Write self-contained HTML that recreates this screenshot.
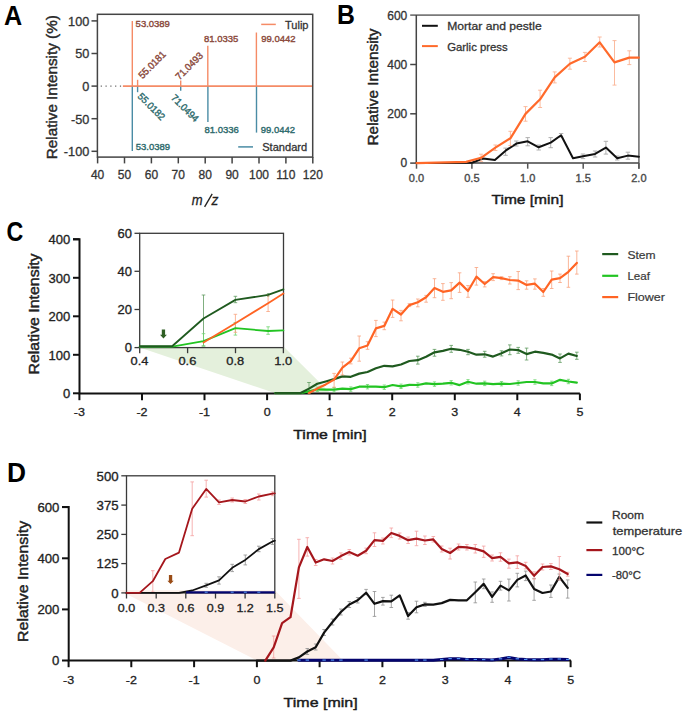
<!DOCTYPE html>
<html><head><meta charset="utf-8"><style>
html,body{margin:0;padding:0;background:#fff;}
svg{display:block;}
text{font-family:"Liberation Sans", sans-serif;}
</style></head><body>
<svg width="685" height="713" viewBox="0 0 685 713">
<rect width="685" height="713" fill="#fff"/>
<text transform="translate(3.9,24.6) scale(0.9,1)" font-size="28" fill="#000" text-anchor="start" font-weight="bold"  style="">A</text>
<rect x="97.4" y="14.3" width="215.3" height="142.8" fill="none" stroke="#444" stroke-width="1.5"/>
<line x1="91.5" y1="20.9" x2="97.4" y2="20.9" stroke="#444" stroke-width="1.5" />
<text transform="translate(89.3,25.7) scale(1.06,1)" font-size="12" fill="#333" text-anchor="end" font-weight="normal" stroke="#333" stroke-width="0.3"  style="">100</text>
<line x1="91.5" y1="53.5" x2="97.4" y2="53.5" stroke="#444" stroke-width="1.5" />
<text transform="translate(89.3,58.3) scale(1.06,1)" font-size="12" fill="#333" text-anchor="end" font-weight="normal" stroke="#333" stroke-width="0.3"  style="">50</text>
<line x1="91.5" y1="86.1" x2="97.4" y2="86.1" stroke="#444" stroke-width="1.5" />
<text transform="translate(89.3,90.9) scale(1.06,1)" font-size="12" fill="#333" text-anchor="end" font-weight="normal" stroke="#333" stroke-width="0.3"  style="">0</text>
<line x1="91.5" y1="118.7" x2="97.4" y2="118.7" stroke="#444" stroke-width="1.5" />
<text transform="translate(89.3,123.5) scale(1.06,1)" font-size="12" fill="#333" text-anchor="end" font-weight="normal" stroke="#333" stroke-width="0.3"  style="">-50</text>
<line x1="91.5" y1="151.3" x2="97.4" y2="151.3" stroke="#444" stroke-width="1.5" />
<text transform="translate(89.3,156.1) scale(1.06,1)" font-size="12" fill="#333" text-anchor="end" font-weight="normal" stroke="#333" stroke-width="0.3"  style="">-100</text>
<line x1="97.6" y1="157.1" x2="97.6" y2="163.4" stroke="#444" stroke-width="1.5" />
<text x="97.6" y="179.2" font-size="12" fill="#333" text-anchor="middle" font-weight="normal" stroke="#333" stroke-width="0.3"  style="">40</text>
<line x1="124.5" y1="157.1" x2="124.5" y2="163.4" stroke="#444" stroke-width="1.5" />
<text x="124.5" y="179.2" font-size="12" fill="#333" text-anchor="middle" font-weight="normal" stroke="#333" stroke-width="0.3"  style="">50</text>
<line x1="151.4" y1="157.1" x2="151.4" y2="163.4" stroke="#444" stroke-width="1.5" />
<text x="151.4" y="179.2" font-size="12" fill="#333" text-anchor="middle" font-weight="normal" stroke="#333" stroke-width="0.3"  style="">60</text>
<line x1="178.3" y1="157.1" x2="178.3" y2="163.4" stroke="#444" stroke-width="1.5" />
<text x="178.3" y="179.2" font-size="12" fill="#333" text-anchor="middle" font-weight="normal" stroke="#333" stroke-width="0.3"  style="">70</text>
<line x1="205.2" y1="157.1" x2="205.2" y2="163.4" stroke="#444" stroke-width="1.5" />
<text x="205.2" y="179.2" font-size="12" fill="#333" text-anchor="middle" font-weight="normal" stroke="#333" stroke-width="0.3"  style="">80</text>
<line x1="232.1" y1="157.1" x2="232.1" y2="163.4" stroke="#444" stroke-width="1.5" />
<text x="232.1" y="179.2" font-size="12" fill="#333" text-anchor="middle" font-weight="normal" stroke="#333" stroke-width="0.3"  style="">90</text>
<line x1="259.0" y1="157.1" x2="259.0" y2="163.4" stroke="#444" stroke-width="1.5" />
<text x="259.0" y="179.2" font-size="12" fill="#333" text-anchor="middle" font-weight="normal" stroke="#333" stroke-width="0.3"  style="">100</text>
<line x1="285.9" y1="157.1" x2="285.9" y2="163.4" stroke="#444" stroke-width="1.5" />
<text x="285.9" y="179.2" font-size="12" fill="#333" text-anchor="middle" font-weight="normal" stroke="#333" stroke-width="0.3"  style="">110</text>
<line x1="312.8" y1="157.1" x2="312.8" y2="163.4" stroke="#444" stroke-width="1.5" />
<text x="312.8" y="179.2" font-size="12" fill="#333" text-anchor="middle" font-weight="normal" stroke="#333" stroke-width="0.3"  style="">120</text>
<text transform="translate(56.8,87.2) rotate(-90)" font-size="14.0" fill="#2a2a2a" text-anchor="middle" font-weight="normal" textLength="144" lengthAdjust="spacingAndGlyphs" stroke="#2a2a2a" stroke-width="0.42">Relative Intensity (%)</text>
<text transform="translate(191.8,204.8) scale(0.9,1)" font-size="14.5" fill="#222" text-anchor="start" font-weight="normal" stroke="#222" stroke-width="0.3"  style="font-style:italic">m</text>
<text transform="translate(211.6,204.8) scale(0.95,1)" font-size="14.5" fill="#222" text-anchor="start" font-weight="normal" stroke="#222" stroke-width="0.3"  style="font-style:italic">z</text>
<line x1="204.6" y1="206.8" x2="212.2" y2="193.8" stroke="#222" stroke-width="1.35" />
<line x1="100.7" y1="86.1" x2="122.9" y2="86.1" stroke="#666" stroke-width="1.2" stroke-dasharray="1.2,3.6"/>
<line x1="122.9" y1="86.1" x2="312.0" y2="86.1" stroke="#f58b66" stroke-width="1.6" />
<line x1="132.3" y1="21.1" x2="132.3" y2="86.1" stroke="#f58b66" stroke-width="1.4" />
<line x1="137.6" y1="79.8" x2="137.6" y2="86.1" stroke="#f58b66" stroke-width="1.4" />
<line x1="180.7" y1="80.6" x2="180.7" y2="86.1" stroke="#f58b66" stroke-width="1.4" />
<line x1="207.8" y1="45.8" x2="207.8" y2="86.1" stroke="#f58b66" stroke-width="1.4" />
<line x1="256.4" y1="32.5" x2="256.4" y2="86.1" stroke="#f58b66" stroke-width="1.4" />
<line x1="132.3" y1="86.8" x2="132.3" y2="150.9" stroke="#4a8ca5" stroke-width="1.4" />
<line x1="137.6" y1="86.8" x2="137.6" y2="92.2" stroke="#4a8ca5" stroke-width="1.4" />
<line x1="180.7" y1="86.8" x2="180.7" y2="90.7" stroke="#4a8ca5" stroke-width="1.4" />
<line x1="207.9" y1="86.8" x2="207.9" y2="121.9" stroke="#4a8ca5" stroke-width="1.4" />
<line x1="256.5" y1="86.8" x2="256.5" y2="132.6" stroke="#4a8ca5" stroke-width="1.4" />
<text transform="translate(135.6,26.9) scale(0.96,1)" font-size="9.9" fill="#8b4a3c" text-anchor="start" font-weight="normal" stroke="#8b4a3c" stroke-width="0.4"  style="">53.0389</text>
<text transform="translate(204.0,41.9) scale(0.96,1)" font-size="9.9" fill="#8b4a3c" text-anchor="start" font-weight="normal" stroke="#8b4a3c" stroke-width="0.4"  style="">81.0335</text>
<text transform="translate(261.2,41.7) scale(0.96,1)" font-size="9.9" fill="#8b4a3c" text-anchor="start" font-weight="normal" stroke="#8b4a3c" stroke-width="0.4"  style="">99.0442</text>
<text transform="translate(142.4,79.2) rotate(-45)" font-size="9.9" fill="#8b4a3c" stroke="#8b4a3c" stroke-width="0.4" textLength="34" lengthAdjust="spacingAndGlyphs">55.0181</text>
<text transform="translate(179.6,80.4) rotate(-45)" font-size="9.9" fill="#8b4a3c" stroke="#8b4a3c" stroke-width="0.4" textLength="34" lengthAdjust="spacingAndGlyphs">71.0493</text>
<text transform="translate(135.8,150.0) scale(0.96,1)" font-size="9.9" fill="#2e6b6d" text-anchor="start" font-weight="normal" stroke="#2e6b6d" stroke-width="0.4"  style="">53.0389</text>
<text transform="translate(204.5,133.1) scale(0.96,1)" font-size="9.9" fill="#2e6b6d" text-anchor="start" font-weight="normal" stroke="#2e6b6d" stroke-width="0.4"  style="">81.0336</text>
<text transform="translate(260.7,132.7) scale(0.96,1)" font-size="9.9" fill="#2e6b6d" text-anchor="start" font-weight="normal" stroke="#2e6b6d" stroke-width="0.4"  style="">99.0442</text>
<text transform="translate(137.0,96.9) rotate(45)" font-size="9.9" fill="#2e6b6d" stroke="#2e6b6d" stroke-width="0.4" textLength="34" lengthAdjust="spacingAndGlyphs">55.0182</text>
<text transform="translate(170.6,98.5) rotate(45)" font-size="9.9" fill="#2e6b6d" stroke="#2e6b6d" stroke-width="0.4" textLength="34" lengthAdjust="spacingAndGlyphs">71.0494</text>
<line x1="261.2" y1="24.4" x2="275.8" y2="24.4" stroke="#f58b66" stroke-width="1.5" />
<text transform="translate(285.0,28.6) scale(0.96,1)" font-size="11.5" fill="#333" text-anchor="start" font-weight="normal" stroke="#333" stroke-width="0.3"  style="">Tulip</text>
<line x1="238.2" y1="146.9" x2="253.0" y2="146.9" stroke="#4a8ca5" stroke-width="1.5" />
<text x="262.2" y="151.1" font-size="11.5" fill="#333" text-anchor="start" font-weight="normal" textLength="45" lengthAdjust="spacingAndGlyphs" stroke="#333" stroke-width="0.3"  style="">Standard</text>
<text transform="translate(337.0,24.2) scale(0.9,1)" font-size="27.5" fill="#000" text-anchor="start" font-weight="bold"  style="">B</text>
<polyline points="410.2,15.1 638.9,15.1 638.9,168.7" fill="none" stroke="#7a7a7a" stroke-width="1.7"/>
<polyline points="416.3,15.1 416.3,163.1 638.9,163.1" fill="none" stroke="#444" stroke-width="1.5"/>
<line x1="410.2" y1="64.5" x2="416.5" y2="64.5" stroke="#444" stroke-width="1.5" />
<line x1="410.2" y1="113.8" x2="416.5" y2="113.8" stroke="#444" stroke-width="1.5" />
<line x1="410.2" y1="163.1" x2="416.5" y2="163.1" stroke="#444" stroke-width="1.5" />
<text x="407.3" y="19.5" font-size="12" fill="#333" text-anchor="end" font-weight="normal" stroke="#333" stroke-width="0.3"  style="">600</text>
<text x="407.3" y="68.8" font-size="12" fill="#333" text-anchor="end" font-weight="normal" stroke="#333" stroke-width="0.3"  style="">400</text>
<text x="407.3" y="118.1" font-size="12" fill="#333" text-anchor="end" font-weight="normal" stroke="#333" stroke-width="0.3"  style="">200</text>
<text x="407.3" y="167.4" font-size="12" fill="#333" text-anchor="end" font-weight="normal" stroke="#333" stroke-width="0.3"  style="">0</text>
<line x1="416.5" y1="163.1" x2="416.5" y2="168.7" stroke="#555" stroke-width="1.5" />
<text transform="translate(416.5,181.8) scale(1.06,1)" font-size="10.4" fill="#4a4a4a" text-anchor="middle" font-weight="normal" stroke="#4a4a4a" stroke-width="0.35"  style="">0.0</text>
<line x1="471.9" y1="163.1" x2="471.9" y2="168.7" stroke="#555" stroke-width="1.5" />
<text transform="translate(471.9,181.8) scale(1.06,1)" font-size="10.4" fill="#4a4a4a" text-anchor="middle" font-weight="normal" stroke="#4a4a4a" stroke-width="0.35"  style="">0.5</text>
<line x1="527.7" y1="163.1" x2="527.7" y2="168.7" stroke="#555" stroke-width="1.5" />
<text transform="translate(527.7,181.8) scale(1.06,1)" font-size="10.4" fill="#4a4a4a" text-anchor="middle" font-weight="normal" stroke="#4a4a4a" stroke-width="0.35"  style="">1.0</text>
<line x1="583.2" y1="163.1" x2="583.2" y2="168.7" stroke="#555" stroke-width="1.5" />
<text transform="translate(583.2,181.8) scale(1.06,1)" font-size="10.4" fill="#4a4a4a" text-anchor="middle" font-weight="normal" stroke="#4a4a4a" stroke-width="0.35"  style="">1.5</text>
<line x1="638.9" y1="163.1" x2="638.9" y2="168.7" stroke="#555" stroke-width="1.5" />
<text transform="translate(638.9,181.8) scale(1.06,1)" font-size="10.4" fill="#4a4a4a" text-anchor="middle" font-weight="normal" stroke="#4a4a4a" stroke-width="0.35"  style="">2.0</text>
<text transform="translate(377.5,87.0) rotate(-90)" font-size="13.8" fill="#222" text-anchor="middle" font-weight="normal" textLength="117" lengthAdjust="spacingAndGlyphs" stroke="#222" stroke-width="0.42">Relative Intensity</text>
<text x="527.5" y="204.0" font-size="13.6" fill="#1a1a1a" text-anchor="middle" font-weight="normal" textLength="72" lengthAdjust="spacingAndGlyphs" stroke="#1a1a1a" stroke-width="0.42"  style="">Time [min]</text>
<line x1="422.0" y1="25.8" x2="437.8" y2="25.8" stroke="#111" stroke-width="2" />
<text x="447.2" y="30.2" font-size="11.6" fill="#333" text-anchor="start" font-weight="normal" textLength="94.5" lengthAdjust="spacingAndGlyphs" stroke="#333" stroke-width="0.3"  style="">Mortar and pestle</text>
<line x1="422.0" y1="46.1" x2="437.8" y2="46.1" stroke="#ff6a2b" stroke-width="2" />
<text x="447.2" y="51.0" font-size="11.6" fill="#333" text-anchor="start" font-weight="normal" textLength="60.5" lengthAdjust="spacingAndGlyphs" stroke="#333" stroke-width="0.3"  style="">Garlic press</text>
<line x1="505.6" y1="148.1" x2="505.6" y2="155.3" stroke="#a8a8a8" stroke-width="0.9" />
<line x1="503.4" y1="148.1" x2="507.8" y2="148.1" stroke="#a8a8a8" stroke-width="0.9" />
<line x1="503.4" y1="155.3" x2="507.8" y2="155.3" stroke="#a8a8a8" stroke-width="0.9" />
<line x1="516.3" y1="141.0" x2="516.3" y2="146.0" stroke="#a8a8a8" stroke-width="0.9" />
<line x1="514.1" y1="141.0" x2="518.5" y2="141.0" stroke="#a8a8a8" stroke-width="0.9" />
<line x1="514.1" y1="146.0" x2="518.5" y2="146.0" stroke="#a8a8a8" stroke-width="0.9" />
<line x1="527.7" y1="137.6" x2="527.7" y2="145.8" stroke="#a8a8a8" stroke-width="0.9" />
<line x1="525.5" y1="137.6" x2="529.9" y2="137.6" stroke="#a8a8a8" stroke-width="0.9" />
<line x1="525.5" y1="145.8" x2="529.9" y2="145.8" stroke="#a8a8a8" stroke-width="0.9" />
<line x1="538.7" y1="145.0" x2="538.7" y2="150.0" stroke="#a8a8a8" stroke-width="0.9" />
<line x1="536.5" y1="145.0" x2="540.9" y2="145.0" stroke="#a8a8a8" stroke-width="0.9" />
<line x1="536.5" y1="150.0" x2="540.9" y2="150.0" stroke="#a8a8a8" stroke-width="0.9" />
<line x1="550.7" y1="137.6" x2="550.7" y2="147.7" stroke="#a8a8a8" stroke-width="0.9" />
<line x1="548.5" y1="137.6" x2="552.9" y2="137.6" stroke="#a8a8a8" stroke-width="0.9" />
<line x1="548.5" y1="147.7" x2="552.9" y2="147.7" stroke="#a8a8a8" stroke-width="0.9" />
<line x1="561.1" y1="133.5" x2="561.1" y2="137.0" stroke="#a8a8a8" stroke-width="0.9" />
<line x1="558.9" y1="133.5" x2="563.3" y2="133.5" stroke="#a8a8a8" stroke-width="0.9" />
<line x1="558.9" y1="137.0" x2="563.3" y2="137.0" stroke="#a8a8a8" stroke-width="0.9" />
<line x1="583.0" y1="154.0" x2="583.0" y2="158.6" stroke="#a8a8a8" stroke-width="0.9" />
<line x1="580.8" y1="154.0" x2="585.2" y2="154.0" stroke="#a8a8a8" stroke-width="0.9" />
<line x1="580.8" y1="158.6" x2="585.2" y2="158.6" stroke="#a8a8a8" stroke-width="0.9" />
<line x1="595.1" y1="151.0" x2="595.1" y2="157.0" stroke="#a8a8a8" stroke-width="0.9" />
<line x1="592.9" y1="151.0" x2="597.3" y2="151.0" stroke="#a8a8a8" stroke-width="0.9" />
<line x1="592.9" y1="157.0" x2="597.3" y2="157.0" stroke="#a8a8a8" stroke-width="0.9" />
<line x1="605.9" y1="141.3" x2="605.9" y2="154.1" stroke="#a8a8a8" stroke-width="0.9" />
<line x1="603.7" y1="141.3" x2="608.1" y2="141.3" stroke="#a8a8a8" stroke-width="0.9" />
<line x1="603.7" y1="154.1" x2="608.1" y2="154.1" stroke="#a8a8a8" stroke-width="0.9" />
<line x1="617.2" y1="156.0" x2="617.2" y2="160.0" stroke="#a8a8a8" stroke-width="0.9" />
<line x1="615.0" y1="156.0" x2="619.4" y2="156.0" stroke="#a8a8a8" stroke-width="0.9" />
<line x1="615.0" y1="160.0" x2="619.4" y2="160.0" stroke="#a8a8a8" stroke-width="0.9" />
<line x1="627.9" y1="152.2" x2="627.9" y2="159.2" stroke="#a8a8a8" stroke-width="0.9" />
<line x1="625.7" y1="152.2" x2="630.1" y2="152.2" stroke="#a8a8a8" stroke-width="0.9" />
<line x1="625.7" y1="159.2" x2="630.1" y2="159.2" stroke="#a8a8a8" stroke-width="0.9" />
<polyline points="416.5,163.1 471.9,162.7 483.1,158.6 494.9,160.1 505.6,150.7 516.4,143.6 527.7,141.3 538.7,147.3 550.7,142.6 561.1,135.3 573.0,158.2 583.0,156.2 595.1,153.9 605.9,147.6 617.2,158.2 627.9,155.6 638.9,156.7" fill="none" stroke="#111" stroke-width="2.0" stroke-linejoin="round" stroke-linecap="round" />
<line x1="481.1" y1="154.2" x2="481.1" y2="161.4" stroke="#fab394" stroke-width="0.9" />
<line x1="479.1" y1="154.2" x2="483.1" y2="154.2" stroke="#fab394" stroke-width="0.9" />
<line x1="479.1" y1="161.4" x2="483.1" y2="161.4" stroke="#fab394" stroke-width="0.9" />
<line x1="495.4" y1="145.0" x2="495.4" y2="150.5" stroke="#fab394" stroke-width="0.9" />
<line x1="493.4" y1="145.0" x2="497.4" y2="145.0" stroke="#fab394" stroke-width="0.9" />
<line x1="493.4" y1="150.5" x2="497.4" y2="150.5" stroke="#fab394" stroke-width="0.9" />
<line x1="510.4" y1="131.3" x2="510.4" y2="145.5" stroke="#fab394" stroke-width="0.9" />
<line x1="508.4" y1="131.3" x2="512.4" y2="131.3" stroke="#fab394" stroke-width="0.9" />
<line x1="508.4" y1="145.5" x2="512.4" y2="145.5" stroke="#fab394" stroke-width="0.9" />
<line x1="525.5" y1="106.6" x2="525.5" y2="121.2" stroke="#fab394" stroke-width="0.9" />
<line x1="523.5" y1="106.6" x2="527.5" y2="106.6" stroke="#fab394" stroke-width="0.9" />
<line x1="523.5" y1="121.2" x2="527.5" y2="121.2" stroke="#fab394" stroke-width="0.9" />
<line x1="540.1" y1="90.2" x2="540.1" y2="107.5" stroke="#fab394" stroke-width="0.9" />
<line x1="538.1" y1="90.2" x2="542.1" y2="90.2" stroke="#fab394" stroke-width="0.9" />
<line x1="538.1" y1="107.5" x2="542.1" y2="107.5" stroke="#fab394" stroke-width="0.9" />
<line x1="554.7" y1="71.9" x2="554.7" y2="82.9" stroke="#fab394" stroke-width="0.9" />
<line x1="552.7" y1="71.9" x2="556.7" y2="71.9" stroke="#fab394" stroke-width="0.9" />
<line x1="552.7" y1="82.9" x2="556.7" y2="82.9" stroke="#fab394" stroke-width="0.9" />
<line x1="569.9" y1="58.2" x2="569.9" y2="69.2" stroke="#fab394" stroke-width="0.9" />
<line x1="567.9" y1="58.2" x2="571.9" y2="58.2" stroke="#fab394" stroke-width="0.9" />
<line x1="567.9" y1="69.2" x2="571.9" y2="69.2" stroke="#fab394" stroke-width="0.9" />
<line x1="584.9" y1="52.4" x2="584.9" y2="61.5" stroke="#fab394" stroke-width="0.9" />
<line x1="582.9" y1="52.4" x2="586.9" y2="52.4" stroke="#fab394" stroke-width="0.9" />
<line x1="582.9" y1="61.5" x2="586.9" y2="61.5" stroke="#fab394" stroke-width="0.9" />
<line x1="599.7" y1="37.0" x2="599.7" y2="47.0" stroke="#fab394" stroke-width="0.9" />
<line x1="597.7" y1="37.0" x2="601.7" y2="37.0" stroke="#fab394" stroke-width="0.9" />
<line x1="597.7" y1="47.0" x2="601.7" y2="47.0" stroke="#fab394" stroke-width="0.9" />
<line x1="614.5" y1="40.6" x2="614.5" y2="85.1" stroke="#fab394" stroke-width="0.9" />
<line x1="612.5" y1="40.6" x2="616.5" y2="40.6" stroke="#fab394" stroke-width="0.9" />
<line x1="612.5" y1="85.1" x2="616.5" y2="85.1" stroke="#fab394" stroke-width="0.9" />
<line x1="629.3" y1="50.8" x2="629.3" y2="64.6" stroke="#fab394" stroke-width="0.9" />
<line x1="627.3" y1="50.8" x2="631.3" y2="50.8" stroke="#fab394" stroke-width="0.9" />
<line x1="627.3" y1="64.6" x2="631.3" y2="64.6" stroke="#fab394" stroke-width="0.9" />
<polyline points="416.5,163.1 466.2,161.9 481.1,157.8 495.4,147.6 510.4,138.3 525.5,113.9 540.1,99.3 554.7,77.4 569.9,63.7 584.9,56.8 599.7,42.3 614.5,62.4 629.3,57.6 638.9,57.6" fill="none" stroke="#ff6a2b" stroke-width="2.2" stroke-linejoin="round" stroke-linecap="round" />
<text transform="translate(6.4,241.4) scale(0.83,1)" font-size="28" fill="#000" text-anchor="start" font-weight="bold"  style="">C</text>
<polygon points="139.7,347.6 284.5,347.6 330.5,393.3 275.5,393.3" fill="#e4f0dc"/>
<polyline points="73,239.3 79.5,239.3 79.5,393.5 579.9,393.5" fill="none" stroke="#111" stroke-width="2"/>
<line x1="73.0" y1="239.3" x2="79.5" y2="239.3" stroke="#111" stroke-width="2" />
<text transform="translate(70.2,244.1) scale(1.07,1)" font-size="12.2" fill="#222" text-anchor="end" font-weight="normal" stroke="#222" stroke-width="0.3"  style="">400</text>
<line x1="73.0" y1="277.8" x2="79.5" y2="277.8" stroke="#111" stroke-width="2" />
<text transform="translate(70.2,282.6) scale(1.07,1)" font-size="12.2" fill="#222" text-anchor="end" font-weight="normal" stroke="#222" stroke-width="0.3"  style="">300</text>
<line x1="73.0" y1="316.3" x2="79.5" y2="316.3" stroke="#111" stroke-width="2" />
<text transform="translate(70.2,321.1) scale(1.07,1)" font-size="12.2" fill="#222" text-anchor="end" font-weight="normal" stroke="#222" stroke-width="0.3"  style="">200</text>
<line x1="73.0" y1="354.8" x2="79.5" y2="354.8" stroke="#111" stroke-width="2" />
<text transform="translate(70.2,359.6) scale(1.07,1)" font-size="12.2" fill="#222" text-anchor="end" font-weight="normal" stroke="#222" stroke-width="0.3"  style="">100</text>
<line x1="73.0" y1="393.3" x2="79.5" y2="393.3" stroke="#111" stroke-width="2" />
<text transform="translate(70.2,398.1) scale(1.07,1)" font-size="12.2" fill="#222" text-anchor="end" font-weight="normal" stroke="#222" stroke-width="0.3"  style="">0</text>
<line x1="79.4" y1="393.5" x2="79.4" y2="400.2" stroke="#111" stroke-width="2" />
<text transform="translate(79.4,415.9) scale(1.06,1)" font-size="11.8" fill="#222" text-anchor="middle" font-weight="normal" stroke="#222" stroke-width="0.3"  style="">-3</text>
<line x1="142.0" y1="393.5" x2="142.0" y2="400.2" stroke="#111" stroke-width="2" />
<text transform="translate(142.0,415.9) scale(1.06,1)" font-size="11.8" fill="#222" text-anchor="middle" font-weight="normal" stroke="#222" stroke-width="0.3"  style="">-2</text>
<line x1="204.5" y1="393.5" x2="204.5" y2="400.2" stroke="#111" stroke-width="2" />
<text transform="translate(204.5,415.9) scale(1.06,1)" font-size="11.8" fill="#222" text-anchor="middle" font-weight="normal" stroke="#222" stroke-width="0.3"  style="">-1</text>
<line x1="267.1" y1="393.5" x2="267.1" y2="400.2" stroke="#111" stroke-width="2" />
<text transform="translate(267.1,415.9) scale(1.06,1)" font-size="11.8" fill="#222" text-anchor="middle" font-weight="normal" stroke="#222" stroke-width="0.3"  style="">0</text>
<line x1="329.6" y1="393.5" x2="329.6" y2="400.2" stroke="#111" stroke-width="2" />
<text transform="translate(329.6,415.9) scale(1.06,1)" font-size="11.8" fill="#222" text-anchor="middle" font-weight="normal" stroke="#222" stroke-width="0.3"  style="">1</text>
<line x1="392.2" y1="393.5" x2="392.2" y2="400.2" stroke="#111" stroke-width="2" />
<text transform="translate(392.2,415.9) scale(1.06,1)" font-size="11.8" fill="#222" text-anchor="middle" font-weight="normal" stroke="#222" stroke-width="0.3"  style="">2</text>
<line x1="454.8" y1="393.5" x2="454.8" y2="400.2" stroke="#111" stroke-width="2" />
<text transform="translate(454.8,415.9) scale(1.06,1)" font-size="11.8" fill="#222" text-anchor="middle" font-weight="normal" stroke="#222" stroke-width="0.3"  style="">3</text>
<line x1="517.3" y1="393.5" x2="517.3" y2="400.2" stroke="#111" stroke-width="2" />
<text transform="translate(517.3,415.9) scale(1.06,1)" font-size="11.8" fill="#222" text-anchor="middle" font-weight="normal" stroke="#222" stroke-width="0.3"  style="">4</text>
<line x1="579.9" y1="393.5" x2="579.9" y2="400.2" stroke="#111" stroke-width="2" />
<text transform="translate(579.9,415.9) scale(1.06,1)" font-size="11.8" fill="#222" text-anchor="middle" font-weight="normal" stroke="#222" stroke-width="0.3"  style="">5</text>
<text transform="translate(39.0,314.0) rotate(-90)" font-size="13.8" fill="#222" text-anchor="middle" font-weight="normal" textLength="121" lengthAdjust="spacingAndGlyphs" stroke="#222" stroke-width="0.42">Relative Intensity</text>
<text x="330.0" y="439.4" font-size="13.6" fill="#1a1a1a" text-anchor="middle" font-weight="normal" textLength="73.5" lengthAdjust="spacingAndGlyphs" stroke="#1a1a1a" stroke-width="0.42"  style="">Time [min]</text>
<line x1="602.2" y1="254.1" x2="618.2" y2="254.1" stroke="#1f5a1f" stroke-width="2.2" />
<text transform="translate(627.4,258.7) scale(1.07,1)" font-size="11.3" fill="#3a3a3a" text-anchor="start" font-weight="normal" stroke="#3a3a3a" stroke-width="0.2"  style="">Stem</text>
<line x1="602.2" y1="275.8" x2="618.2" y2="275.8" stroke="#22c422" stroke-width="2.2" />
<text transform="translate(627.4,280.2) scale(1.03,1)" font-size="11.3" fill="#3a3a3a" text-anchor="start" font-weight="normal" stroke="#3a3a3a" stroke-width="0.2"  style="">Leaf</text>
<line x1="602.2" y1="297.1" x2="618.2" y2="297.1" stroke="#ff6424" stroke-width="2.2" />
<text transform="translate(627.4,301.3) scale(1.11,1)" font-size="11.3" fill="#3a3a3a" text-anchor="start" font-weight="normal" stroke="#3a3a3a" stroke-width="0.2"  style="">Flower</text>
<rect x="139.7" y="233.3" width="143.8" height="114.3" fill="none" stroke="#3a3a3a" stroke-width="1.3"/>
<line x1="134.5" y1="233.3" x2="139.7" y2="233.3" stroke="#3a3a3a" stroke-width="1.3" />
<text transform="translate(132.0,237.9) scale(1.08,1)" font-size="12" fill="#222" text-anchor="end" font-weight="normal" stroke="#222" stroke-width="0.3"  style="">60</text>
<line x1="134.5" y1="271.3" x2="139.7" y2="271.3" stroke="#3a3a3a" stroke-width="1.3" />
<text transform="translate(132.0,275.9) scale(1.08,1)" font-size="12" fill="#222" text-anchor="end" font-weight="normal" stroke="#222" stroke-width="0.3"  style="">40</text>
<line x1="134.5" y1="309.5" x2="139.7" y2="309.5" stroke="#3a3a3a" stroke-width="1.3" />
<text transform="translate(132.0,314.1) scale(1.08,1)" font-size="12" fill="#222" text-anchor="end" font-weight="normal" stroke="#222" stroke-width="0.3"  style="">20</text>
<line x1="134.5" y1="347.6" x2="139.7" y2="347.6" stroke="#3a3a3a" stroke-width="1.3" />
<text transform="translate(132.0,352.2) scale(1.08,1)" font-size="12" fill="#222" text-anchor="end" font-weight="normal" stroke="#222" stroke-width="0.3"  style="">0</text>
<line x1="139.7" y1="347.6" x2="139.7" y2="353.2" stroke="#3a3a3a" stroke-width="1.3" />
<text transform="translate(139.5,364.9) scale(1.15,1)" font-size="11.2" fill="#222" text-anchor="middle" font-weight="normal" stroke="#222" stroke-width="0.3"  style="">0.4</text>
<line x1="187.6" y1="347.6" x2="187.6" y2="353.2" stroke="#3a3a3a" stroke-width="1.3" />
<text transform="translate(187.4,364.9) scale(1.15,1)" font-size="11.2" fill="#222" text-anchor="middle" font-weight="normal" stroke="#222" stroke-width="0.3"  style="">0.6</text>
<line x1="235.5" y1="347.6" x2="235.5" y2="353.2" stroke="#3a3a3a" stroke-width="1.3" />
<text transform="translate(235.3,364.9) scale(1.15,1)" font-size="11.2" fill="#222" text-anchor="middle" font-weight="normal" stroke="#222" stroke-width="0.3"  style="">0.8</text>
<line x1="283.4" y1="347.6" x2="283.4" y2="353.2" stroke="#3a3a3a" stroke-width="1.3" />
<text transform="translate(283.2,364.9) scale(1.15,1)" font-size="11.2" fill="#222" text-anchor="middle" font-weight="normal" stroke="#222" stroke-width="0.3"  style="">1.0</text>
<line x1="203.5" y1="295.0" x2="203.5" y2="346.0" stroke="#5f9a5f" stroke-width="0.8" />
<line x1="201.7" y1="295.0" x2="205.3" y2="295.0" stroke="#5f9a5f" stroke-width="0.8" />
<line x1="201.7" y1="346.0" x2="205.3" y2="346.0" stroke="#5f9a5f" stroke-width="0.8" />
<line x1="235.4" y1="296.3" x2="235.4" y2="302.7" stroke="#5f9a5f" stroke-width="0.8" />
<line x1="233.6" y1="296.3" x2="237.2" y2="296.3" stroke="#5f9a5f" stroke-width="0.8" />
<line x1="233.6" y1="302.7" x2="237.2" y2="302.7" stroke="#5f9a5f" stroke-width="0.8" />
<line x1="268.1" y1="293.5" x2="268.1" y2="296.5" stroke="#5f9a5f" stroke-width="0.6" />
<line x1="266.9" y1="293.5" x2="269.3" y2="293.5" stroke="#5f9a5f" stroke-width="0.6" />
<line x1="266.9" y1="296.5" x2="269.3" y2="296.5" stroke="#5f9a5f" stroke-width="0.6" />
<line x1="203.5" y1="333.7" x2="203.5" y2="346.0" stroke="#6fd66f" stroke-width="0.8" />
<line x1="201.7" y1="333.7" x2="205.3" y2="333.7" stroke="#6fd66f" stroke-width="0.8" />
<line x1="201.7" y1="346.0" x2="205.3" y2="346.0" stroke="#6fd66f" stroke-width="0.8" />
<line x1="235.4" y1="322.6" x2="235.4" y2="335.1" stroke="#6fd66f" stroke-width="0.8" />
<line x1="233.6" y1="322.6" x2="237.2" y2="322.6" stroke="#6fd66f" stroke-width="0.8" />
<line x1="233.6" y1="335.1" x2="237.2" y2="335.1" stroke="#6fd66f" stroke-width="0.8" />
<line x1="268.1" y1="326.8" x2="268.1" y2="334.3" stroke="#6fd66f" stroke-width="0.8" />
<line x1="266.3" y1="326.8" x2="269.9" y2="326.8" stroke="#6fd66f" stroke-width="0.8" />
<line x1="266.3" y1="334.3" x2="269.9" y2="334.3" stroke="#6fd66f" stroke-width="0.8" />
<line x1="235.4" y1="314.3" x2="235.4" y2="332.3" stroke="#f9a37f" stroke-width="0.8" />
<line x1="233.6" y1="314.3" x2="237.2" y2="314.3" stroke="#f9a37f" stroke-width="0.8" />
<line x1="233.6" y1="332.3" x2="237.2" y2="332.3" stroke="#f9a37f" stroke-width="0.8" />
<line x1="268.1" y1="294.9" x2="268.1" y2="311.5" stroke="#f9a37f" stroke-width="0.8" />
<line x1="266.3" y1="294.9" x2="269.9" y2="294.9" stroke="#f9a37f" stroke-width="0.8" />
<line x1="266.3" y1="311.5" x2="269.9" y2="311.5" stroke="#f9a37f" stroke-width="0.8" />
<polyline points="139.7,346.6 172.4,346.6 203.5,341.2 235.4,328.2 268.1,331.0 283.4,330.4" fill="none" stroke="#22c422" stroke-width="1.8" stroke-linejoin="round" stroke-linecap="round" />
<polyline points="203.5,342.5 235.4,323.2 268.1,303.2 283.4,293.5" fill="none" stroke="#ff6424" stroke-width="1.8" stroke-linejoin="round" stroke-linecap="round" />
<polyline points="139.7,346.2 172.4,346.0 203.5,318.5 235.4,299.9 268.1,294.9 283.4,289.3" fill="none" stroke="#1f5a1f" stroke-width="1.8" stroke-linejoin="round" stroke-linecap="round" />
<path d="M161.8,329.4 h3.3 v5.4 h1.8 l-3.45,3.8 l-3.45,-3.8 h1.8 z" fill="#2f5f24"/>
<line x1="309.0" y1="382.5" x2="309.0" y2="393.0" stroke="#5f9a5f" stroke-width="0.8" />
<line x1="307.2" y1="382.5" x2="310.8" y2="382.5" stroke="#5f9a5f" stroke-width="0.8" />
<line x1="307.2" y1="393.0" x2="310.8" y2="393.0" stroke="#5f9a5f" stroke-width="0.8" />
<line x1="417.8" y1="356.2" x2="417.8" y2="364.1" stroke="#5f9a5f" stroke-width="0.8" />
<line x1="416.0" y1="356.2" x2="419.6" y2="356.2" stroke="#5f9a5f" stroke-width="0.8" />
<line x1="416.0" y1="364.1" x2="419.6" y2="364.1" stroke="#5f9a5f" stroke-width="0.8" />
<line x1="434.5" y1="349.4" x2="434.5" y2="356.2" stroke="#5f9a5f" stroke-width="0.8" />
<line x1="432.7" y1="349.4" x2="436.3" y2="349.4" stroke="#5f9a5f" stroke-width="0.8" />
<line x1="432.7" y1="356.2" x2="436.3" y2="356.2" stroke="#5f9a5f" stroke-width="0.8" />
<line x1="451.2" y1="345.4" x2="451.2" y2="352.3" stroke="#5f9a5f" stroke-width="0.8" />
<line x1="449.4" y1="345.4" x2="453.0" y2="345.4" stroke="#5f9a5f" stroke-width="0.8" />
<line x1="449.4" y1="352.3" x2="453.0" y2="352.3" stroke="#5f9a5f" stroke-width="0.8" />
<line x1="468.0" y1="349.4" x2="468.0" y2="354.7" stroke="#5f9a5f" stroke-width="0.8" />
<line x1="466.2" y1="349.4" x2="469.8" y2="349.4" stroke="#5f9a5f" stroke-width="0.8" />
<line x1="466.2" y1="354.7" x2="469.8" y2="354.7" stroke="#5f9a5f" stroke-width="0.8" />
<line x1="484.7" y1="351.3" x2="484.7" y2="357.2" stroke="#5f9a5f" stroke-width="0.8" />
<line x1="482.9" y1="351.3" x2="486.5" y2="351.3" stroke="#5f9a5f" stroke-width="0.8" />
<line x1="482.9" y1="357.2" x2="486.5" y2="357.2" stroke="#5f9a5f" stroke-width="0.8" />
<line x1="501.5" y1="350.8" x2="501.5" y2="355.9" stroke="#5f9a5f" stroke-width="0.8" />
<line x1="499.7" y1="350.8" x2="503.3" y2="350.8" stroke="#5f9a5f" stroke-width="0.8" />
<line x1="499.7" y1="355.9" x2="503.3" y2="355.9" stroke="#5f9a5f" stroke-width="0.8" />
<line x1="509.8" y1="344.9" x2="509.8" y2="354.7" stroke="#5f9a5f" stroke-width="0.8" />
<line x1="508.0" y1="344.9" x2="511.6" y2="344.9" stroke="#5f9a5f" stroke-width="0.8" />
<line x1="508.0" y1="354.7" x2="511.6" y2="354.7" stroke="#5f9a5f" stroke-width="0.8" />
<line x1="518.2" y1="347.4" x2="518.2" y2="353.3" stroke="#5f9a5f" stroke-width="0.8" />
<line x1="516.4" y1="347.4" x2="520.0" y2="347.4" stroke="#5f9a5f" stroke-width="0.8" />
<line x1="516.4" y1="353.3" x2="520.0" y2="353.3" stroke="#5f9a5f" stroke-width="0.8" />
<line x1="526.6" y1="348.1" x2="526.6" y2="360.0" stroke="#5f9a5f" stroke-width="0.8" />
<line x1="524.8" y1="348.1" x2="528.4" y2="348.1" stroke="#5f9a5f" stroke-width="0.8" />
<line x1="524.8" y1="360.0" x2="528.4" y2="360.0" stroke="#5f9a5f" stroke-width="0.8" />
<line x1="560.0" y1="354.0" x2="560.0" y2="362.4" stroke="#5f9a5f" stroke-width="0.8" />
<line x1="558.2" y1="354.0" x2="561.8" y2="354.0" stroke="#5f9a5f" stroke-width="0.8" />
<line x1="558.2" y1="362.4" x2="561.8" y2="362.4" stroke="#5f9a5f" stroke-width="0.8" />
<line x1="576.8" y1="352.2" x2="576.8" y2="359.3" stroke="#5f9a5f" stroke-width="0.8" />
<line x1="575.0" y1="352.2" x2="578.6" y2="352.2" stroke="#5f9a5f" stroke-width="0.8" />
<line x1="575.0" y1="359.3" x2="578.6" y2="359.3" stroke="#5f9a5f" stroke-width="0.8" />
<line x1="317.3" y1="387.1" x2="317.3" y2="391.5" stroke="#6fd66f" stroke-width="0.8" />
<line x1="315.7" y1="387.1" x2="318.9" y2="387.1" stroke="#6fd66f" stroke-width="0.8" />
<line x1="315.7" y1="391.5" x2="318.9" y2="391.5" stroke="#6fd66f" stroke-width="0.8" />
<line x1="334.1" y1="387.5" x2="334.1" y2="391.9" stroke="#6fd66f" stroke-width="0.8" />
<line x1="332.5" y1="387.5" x2="335.7" y2="387.5" stroke="#6fd66f" stroke-width="0.8" />
<line x1="332.5" y1="391.9" x2="335.7" y2="391.9" stroke="#6fd66f" stroke-width="0.8" />
<line x1="350.8" y1="386.9" x2="350.8" y2="391.3" stroke="#6fd66f" stroke-width="0.8" />
<line x1="349.2" y1="386.9" x2="352.4" y2="386.9" stroke="#6fd66f" stroke-width="0.8" />
<line x1="349.2" y1="391.3" x2="352.4" y2="391.3" stroke="#6fd66f" stroke-width="0.8" />
<line x1="367.5" y1="384.5" x2="367.5" y2="388.9" stroke="#6fd66f" stroke-width="0.8" />
<line x1="365.9" y1="384.5" x2="369.1" y2="384.5" stroke="#6fd66f" stroke-width="0.8" />
<line x1="365.9" y1="388.9" x2="369.1" y2="388.9" stroke="#6fd66f" stroke-width="0.8" />
<line x1="384.3" y1="385.0" x2="384.3" y2="389.4" stroke="#6fd66f" stroke-width="0.8" />
<line x1="382.7" y1="385.0" x2="385.9" y2="385.0" stroke="#6fd66f" stroke-width="0.8" />
<line x1="382.7" y1="389.4" x2="385.9" y2="389.4" stroke="#6fd66f" stroke-width="0.8" />
<line x1="401.0" y1="384.1" x2="401.0" y2="388.5" stroke="#6fd66f" stroke-width="0.8" />
<line x1="399.4" y1="384.1" x2="402.6" y2="384.1" stroke="#6fd66f" stroke-width="0.8" />
<line x1="399.4" y1="388.5" x2="402.6" y2="388.5" stroke="#6fd66f" stroke-width="0.8" />
<line x1="417.8" y1="382.8" x2="417.8" y2="387.2" stroke="#6fd66f" stroke-width="0.8" />
<line x1="416.2" y1="382.8" x2="419.4" y2="382.8" stroke="#6fd66f" stroke-width="0.8" />
<line x1="416.2" y1="387.2" x2="419.4" y2="387.2" stroke="#6fd66f" stroke-width="0.8" />
<line x1="434.5" y1="381.9" x2="434.5" y2="386.3" stroke="#6fd66f" stroke-width="0.8" />
<line x1="432.9" y1="381.9" x2="436.1" y2="381.9" stroke="#6fd66f" stroke-width="0.8" />
<line x1="432.9" y1="386.3" x2="436.1" y2="386.3" stroke="#6fd66f" stroke-width="0.8" />
<line x1="451.2" y1="380.6" x2="451.2" y2="385.0" stroke="#6fd66f" stroke-width="0.8" />
<line x1="449.6" y1="380.6" x2="452.8" y2="380.6" stroke="#6fd66f" stroke-width="0.8" />
<line x1="449.6" y1="385.0" x2="452.8" y2="385.0" stroke="#6fd66f" stroke-width="0.8" />
<line x1="468.0" y1="379.6" x2="468.0" y2="384.0" stroke="#6fd66f" stroke-width="0.8" />
<line x1="466.4" y1="379.6" x2="469.6" y2="379.6" stroke="#6fd66f" stroke-width="0.8" />
<line x1="466.4" y1="384.0" x2="469.6" y2="384.0" stroke="#6fd66f" stroke-width="0.8" />
<line x1="484.7" y1="381.2" x2="484.7" y2="385.6" stroke="#6fd66f" stroke-width="0.8" />
<line x1="483.1" y1="381.2" x2="486.3" y2="381.2" stroke="#6fd66f" stroke-width="0.8" />
<line x1="483.1" y1="385.6" x2="486.3" y2="385.6" stroke="#6fd66f" stroke-width="0.8" />
<line x1="501.5" y1="381.5" x2="501.5" y2="385.9" stroke="#6fd66f" stroke-width="0.8" />
<line x1="499.9" y1="381.5" x2="503.1" y2="381.5" stroke="#6fd66f" stroke-width="0.8" />
<line x1="499.9" y1="385.9" x2="503.1" y2="385.9" stroke="#6fd66f" stroke-width="0.8" />
<line x1="518.2" y1="380.8" x2="518.2" y2="385.2" stroke="#6fd66f" stroke-width="0.8" />
<line x1="516.6" y1="380.8" x2="519.8" y2="380.8" stroke="#6fd66f" stroke-width="0.8" />
<line x1="516.6" y1="385.2" x2="519.8" y2="385.2" stroke="#6fd66f" stroke-width="0.8" />
<line x1="534.9" y1="379.8" x2="534.9" y2="384.2" stroke="#6fd66f" stroke-width="0.8" />
<line x1="533.3" y1="379.8" x2="536.5" y2="379.8" stroke="#6fd66f" stroke-width="0.8" />
<line x1="533.3" y1="384.2" x2="536.5" y2="384.2" stroke="#6fd66f" stroke-width="0.8" />
<line x1="551.7" y1="381.2" x2="551.7" y2="385.6" stroke="#6fd66f" stroke-width="0.8" />
<line x1="550.1" y1="381.2" x2="553.3" y2="381.2" stroke="#6fd66f" stroke-width="0.8" />
<line x1="550.1" y1="385.6" x2="553.3" y2="385.6" stroke="#6fd66f" stroke-width="0.8" />
<line x1="568.4" y1="379.3" x2="568.4" y2="383.7" stroke="#6fd66f" stroke-width="0.8" />
<line x1="566.8" y1="379.3" x2="570.0" y2="379.3" stroke="#6fd66f" stroke-width="0.8" />
<line x1="566.8" y1="383.7" x2="570.0" y2="383.7" stroke="#6fd66f" stroke-width="0.8" />
<polyline points="275.5,393.2 300.6,393.2 309.0,391.2 317.3,389.3 325.7,389.7 334.1,389.7 342.4,388.7 350.8,389.1 359.2,386.7 367.5,386.7 375.9,386.7 384.3,387.2 392.6,385.0 401.0,386.3 409.4,384.8 417.8,385.0 426.1,383.4 434.5,384.1 442.9,383.7 451.2,382.8 459.6,385.1 468.0,381.8 476.4,383.7 484.7,383.4 493.1,384.1 501.5,383.7 509.8,384.0 518.2,383.0 526.6,382.0 534.9,382.0 543.3,383.4 551.7,383.4 560.0,379.8 568.4,381.5 576.8,382.7" fill="none" stroke="#22c422" stroke-width="2.2" stroke-linejoin="round" stroke-linecap="round" />
<polyline points="275.5,393.0 300.6,393.0 309.0,388.6 317.3,383.8 325.7,381.5 334.1,379.1 342.4,376.4 350.8,376.8 359.2,373.6 367.5,372.0 375.9,368.3 384.3,365.8 392.6,366.4 401.0,364.5 409.4,361.0 417.8,360.2 426.1,356.8 434.5,352.3 442.9,350.9 451.2,348.8 459.6,349.8 468.0,351.7 476.4,354.7 484.7,354.3 493.1,356.6 501.5,353.3 509.8,349.5 518.2,350.1 526.6,354.1 534.9,351.7 543.3,352.9 551.7,354.6 560.0,358.4 568.4,353.6 576.8,356.0" fill="none" stroke="#1f5a1f" stroke-width="2.2" stroke-linejoin="round" stroke-linecap="round" />
<line x1="334.1" y1="373.4" x2="334.1" y2="387.2" stroke="#f9a37f" stroke-width="0.8" />
<line x1="332.3" y1="373.4" x2="335.9" y2="373.4" stroke="#f9a37f" stroke-width="0.8" />
<line x1="332.3" y1="387.2" x2="335.9" y2="387.2" stroke="#f9a37f" stroke-width="0.8" />
<line x1="342.4" y1="362.0" x2="342.4" y2="374.9" stroke="#f9a37f" stroke-width="0.8" />
<line x1="340.6" y1="362.0" x2="344.2" y2="362.0" stroke="#f9a37f" stroke-width="0.8" />
<line x1="340.6" y1="374.9" x2="344.2" y2="374.9" stroke="#f9a37f" stroke-width="0.8" />
<line x1="350.8" y1="358.2" x2="350.8" y2="363.9" stroke="#f9a37f" stroke-width="0.8" />
<line x1="349.0" y1="358.2" x2="352.6" y2="358.2" stroke="#f9a37f" stroke-width="0.8" />
<line x1="349.0" y1="363.9" x2="352.6" y2="363.9" stroke="#f9a37f" stroke-width="0.8" />
<line x1="359.2" y1="336.0" x2="359.2" y2="361.2" stroke="#f9a37f" stroke-width="0.8" />
<line x1="357.4" y1="336.0" x2="361.0" y2="336.0" stroke="#f9a37f" stroke-width="0.8" />
<line x1="357.4" y1="361.2" x2="361.0" y2="361.2" stroke="#f9a37f" stroke-width="0.8" />
<line x1="367.5" y1="341.7" x2="367.5" y2="349.3" stroke="#f9a37f" stroke-width="0.8" />
<line x1="365.7" y1="341.7" x2="369.3" y2="341.7" stroke="#f9a37f" stroke-width="0.8" />
<line x1="365.7" y1="349.3" x2="369.3" y2="349.3" stroke="#f9a37f" stroke-width="0.8" />
<line x1="375.9" y1="320.4" x2="375.9" y2="336.6" stroke="#f9a37f" stroke-width="0.8" />
<line x1="374.1" y1="320.4" x2="377.7" y2="320.4" stroke="#f9a37f" stroke-width="0.8" />
<line x1="374.1" y1="336.6" x2="377.7" y2="336.6" stroke="#f9a37f" stroke-width="0.8" />
<line x1="384.3" y1="322.1" x2="384.3" y2="329.7" stroke="#f9a37f" stroke-width="0.8" />
<line x1="382.5" y1="322.1" x2="386.1" y2="322.1" stroke="#f9a37f" stroke-width="0.8" />
<line x1="382.5" y1="329.7" x2="386.1" y2="329.7" stroke="#f9a37f" stroke-width="0.8" />
<line x1="392.6" y1="300.0" x2="392.6" y2="317.4" stroke="#f9a37f" stroke-width="0.8" />
<line x1="390.8" y1="300.0" x2="394.4" y2="300.0" stroke="#f9a37f" stroke-width="0.8" />
<line x1="390.8" y1="317.4" x2="394.4" y2="317.4" stroke="#f9a37f" stroke-width="0.8" />
<line x1="401.0" y1="310.4" x2="401.0" y2="320.8" stroke="#f9a37f" stroke-width="0.8" />
<line x1="399.2" y1="310.4" x2="402.8" y2="310.4" stroke="#f9a37f" stroke-width="0.8" />
<line x1="399.2" y1="320.8" x2="402.8" y2="320.8" stroke="#f9a37f" stroke-width="0.8" />
<line x1="409.4" y1="303.7" x2="409.4" y2="306.6" stroke="#f9a37f" stroke-width="0.8" />
<line x1="407.6" y1="303.7" x2="411.2" y2="303.7" stroke="#f9a37f" stroke-width="0.8" />
<line x1="407.6" y1="306.6" x2="411.2" y2="306.6" stroke="#f9a37f" stroke-width="0.8" />
<line x1="417.8" y1="299.0" x2="417.8" y2="306.8" stroke="#f9a37f" stroke-width="0.8" />
<line x1="416.0" y1="299.0" x2="419.6" y2="299.0" stroke="#f9a37f" stroke-width="0.8" />
<line x1="416.0" y1="306.8" x2="419.6" y2="306.8" stroke="#f9a37f" stroke-width="0.8" />
<line x1="426.1" y1="295.4" x2="426.1" y2="302.2" stroke="#f9a37f" stroke-width="0.8" />
<line x1="424.3" y1="295.4" x2="427.9" y2="295.4" stroke="#f9a37f" stroke-width="0.8" />
<line x1="424.3" y1="302.2" x2="427.9" y2="302.2" stroke="#f9a37f" stroke-width="0.8" />
<line x1="434.5" y1="278.7" x2="434.5" y2="297.7" stroke="#f9a37f" stroke-width="0.8" />
<line x1="432.7" y1="278.7" x2="436.3" y2="278.7" stroke="#f9a37f" stroke-width="0.8" />
<line x1="432.7" y1="297.7" x2="436.3" y2="297.7" stroke="#f9a37f" stroke-width="0.8" />
<line x1="442.9" y1="283.6" x2="442.9" y2="300.3" stroke="#f9a37f" stroke-width="0.8" />
<line x1="441.1" y1="283.6" x2="444.7" y2="283.6" stroke="#f9a37f" stroke-width="0.8" />
<line x1="441.1" y1="300.3" x2="444.7" y2="300.3" stroke="#f9a37f" stroke-width="0.8" />
<line x1="451.2" y1="282.6" x2="451.2" y2="298.7" stroke="#f9a37f" stroke-width="0.8" />
<line x1="449.4" y1="282.6" x2="453.0" y2="282.6" stroke="#f9a37f" stroke-width="0.8" />
<line x1="449.4" y1="298.7" x2="453.0" y2="298.7" stroke="#f9a37f" stroke-width="0.8" />
<line x1="459.6" y1="272.8" x2="459.6" y2="292.4" stroke="#f9a37f" stroke-width="0.8" />
<line x1="457.8" y1="272.8" x2="461.4" y2="272.8" stroke="#f9a37f" stroke-width="0.8" />
<line x1="457.8" y1="292.4" x2="461.4" y2="292.4" stroke="#f9a37f" stroke-width="0.8" />
<line x1="468.0" y1="285.5" x2="468.0" y2="297.3" stroke="#f9a37f" stroke-width="0.8" />
<line x1="466.2" y1="285.5" x2="469.8" y2="285.5" stroke="#f9a37f" stroke-width="0.8" />
<line x1="466.2" y1="297.3" x2="469.8" y2="297.3" stroke="#f9a37f" stroke-width="0.8" />
<line x1="476.4" y1="267.5" x2="476.4" y2="285.1" stroke="#f9a37f" stroke-width="0.8" />
<line x1="474.6" y1="267.5" x2="478.2" y2="267.5" stroke="#f9a37f" stroke-width="0.8" />
<line x1="474.6" y1="285.1" x2="478.2" y2="285.1" stroke="#f9a37f" stroke-width="0.8" />
<line x1="484.7" y1="281.6" x2="484.7" y2="286.9" stroke="#f9a37f" stroke-width="0.8" />
<line x1="482.9" y1="281.6" x2="486.5" y2="281.6" stroke="#f9a37f" stroke-width="0.8" />
<line x1="482.9" y1="286.9" x2="486.5" y2="286.9" stroke="#f9a37f" stroke-width="0.8" />
<line x1="493.1" y1="273.7" x2="493.1" y2="280.6" stroke="#f9a37f" stroke-width="0.8" />
<line x1="491.3" y1="273.7" x2="494.9" y2="273.7" stroke="#f9a37f" stroke-width="0.8" />
<line x1="491.3" y1="280.6" x2="494.9" y2="280.6" stroke="#f9a37f" stroke-width="0.8" />
<line x1="501.5" y1="276.7" x2="501.5" y2="279.6" stroke="#f9a37f" stroke-width="0.8" />
<line x1="499.7" y1="276.7" x2="503.3" y2="276.7" stroke="#f9a37f" stroke-width="0.8" />
<line x1="499.7" y1="279.6" x2="503.3" y2="279.6" stroke="#f9a37f" stroke-width="0.8" />
<line x1="509.8" y1="276.7" x2="509.8" y2="284.0" stroke="#f9a37f" stroke-width="0.8" />
<line x1="508.0" y1="276.7" x2="511.6" y2="276.7" stroke="#f9a37f" stroke-width="0.8" />
<line x1="508.0" y1="284.0" x2="511.6" y2="284.0" stroke="#f9a37f" stroke-width="0.8" />
<line x1="518.2" y1="271.5" x2="518.2" y2="289.6" stroke="#f9a37f" stroke-width="0.8" />
<line x1="516.4" y1="271.5" x2="520.0" y2="271.5" stroke="#f9a37f" stroke-width="0.8" />
<line x1="516.4" y1="289.6" x2="520.0" y2="289.6" stroke="#f9a37f" stroke-width="0.8" />
<line x1="526.6" y1="280.8" x2="526.6" y2="289.2" stroke="#f9a37f" stroke-width="0.8" />
<line x1="524.8" y1="280.8" x2="528.4" y2="280.8" stroke="#f9a37f" stroke-width="0.8" />
<line x1="524.8" y1="289.2" x2="528.4" y2="289.2" stroke="#f9a37f" stroke-width="0.8" />
<line x1="534.9" y1="278.9" x2="534.9" y2="289.2" stroke="#f9a37f" stroke-width="0.8" />
<line x1="533.1" y1="278.9" x2="536.7" y2="278.9" stroke="#f9a37f" stroke-width="0.8" />
<line x1="533.1" y1="289.2" x2="536.7" y2="289.2" stroke="#f9a37f" stroke-width="0.8" />
<line x1="543.3" y1="288.5" x2="543.3" y2="296.3" stroke="#f9a37f" stroke-width="0.8" />
<line x1="541.5" y1="288.5" x2="545.1" y2="288.5" stroke="#f9a37f" stroke-width="0.8" />
<line x1="541.5" y1="296.3" x2="545.1" y2="296.3" stroke="#f9a37f" stroke-width="0.8" />
<line x1="551.7" y1="271.0" x2="551.7" y2="288.5" stroke="#f9a37f" stroke-width="0.8" />
<line x1="549.9" y1="271.0" x2="553.5" y2="271.0" stroke="#f9a37f" stroke-width="0.8" />
<line x1="549.9" y1="288.5" x2="553.5" y2="288.5" stroke="#f9a37f" stroke-width="0.8" />
<line x1="560.0" y1="274.1" x2="560.0" y2="282.5" stroke="#f9a37f" stroke-width="0.8" />
<line x1="558.2" y1="274.1" x2="561.8" y2="274.1" stroke="#f9a37f" stroke-width="0.8" />
<line x1="558.2" y1="282.5" x2="561.8" y2="282.5" stroke="#f9a37f" stroke-width="0.8" />
<line x1="568.4" y1="256.2" x2="568.4" y2="287.3" stroke="#f9a37f" stroke-width="0.8" />
<line x1="566.6" y1="256.2" x2="570.2" y2="256.2" stroke="#f9a37f" stroke-width="0.8" />
<line x1="566.6" y1="287.3" x2="570.2" y2="287.3" stroke="#f9a37f" stroke-width="0.8" />
<line x1="576.8" y1="251.0" x2="576.8" y2="274.1" stroke="#f9a37f" stroke-width="0.8" />
<line x1="575.0" y1="251.0" x2="578.6" y2="251.0" stroke="#f9a37f" stroke-width="0.8" />
<line x1="575.0" y1="274.1" x2="578.6" y2="274.1" stroke="#f9a37f" stroke-width="0.8" />
<polyline points="309.0,393.0 317.3,388.6 325.7,384.4 334.1,379.6 342.4,367.7 350.8,361.2 359.2,348.3 367.5,345.5 375.9,328.4 384.3,325.9 392.6,308.8 401.0,314.5 409.4,305.1 417.8,302.3 426.1,297.3 434.5,288.1 442.9,291.8 451.2,290.4 459.6,282.6 468.0,291.0 476.4,276.7 484.7,284.0 493.1,277.1 501.5,278.1 509.8,280.0 518.2,280.6 526.6,284.9 534.9,283.7 543.3,292.0 551.7,279.6 560.0,278.2 568.4,271.8 576.8,262.9" fill="none" stroke="#ff6424" stroke-width="2.2" stroke-linejoin="round" stroke-linecap="round" />
<text transform="translate(7.0,482.1) scale(0.94,1)" font-size="28" fill="#000" text-anchor="start" font-weight="bold"  style="">D</text>
<polygon points="119,590.3 274.8,590.3 343,660.5 257,660.5" fill="#fcefe9"/>
<polyline points="62,507.1 68.7,507.1 68.7,660.5 571,660.5" fill="none" stroke="#111" stroke-width="2"/>
<line x1="62.0" y1="507.1" x2="68.5" y2="507.1" stroke="#111" stroke-width="2" />
<text transform="translate(59.4,511.9) scale(1.08,1)" font-size="12.2" fill="#222" text-anchor="end" font-weight="normal" stroke="#222" stroke-width="0.3"  style="">600</text>
<line x1="62.0" y1="558.3" x2="68.5" y2="558.3" stroke="#111" stroke-width="2" />
<text transform="translate(59.4,563.1) scale(1.08,1)" font-size="12.2" fill="#222" text-anchor="end" font-weight="normal" stroke="#222" stroke-width="0.3"  style="">400</text>
<line x1="62.0" y1="609.4" x2="68.5" y2="609.4" stroke="#111" stroke-width="2" />
<text transform="translate(59.4,614.2) scale(1.08,1)" font-size="12.2" fill="#222" text-anchor="end" font-weight="normal" stroke="#222" stroke-width="0.3"  style="">200</text>
<line x1="62.0" y1="660.5" x2="68.5" y2="660.5" stroke="#111" stroke-width="2" />
<text transform="translate(59.4,665.3) scale(1.08,1)" font-size="12.2" fill="#222" text-anchor="end" font-weight="normal" stroke="#222" stroke-width="0.3"  style="">0</text>
<line x1="68.6" y1="660.5" x2="68.6" y2="667.2" stroke="#111" stroke-width="2" />
<text transform="translate(68.6,684.1) scale(1.06,1)" font-size="11.8" fill="#222" text-anchor="middle" font-weight="normal" stroke="#222" stroke-width="0.3"  style="">-3</text>
<line x1="131.3" y1="660.5" x2="131.3" y2="667.2" stroke="#111" stroke-width="2" />
<text transform="translate(131.3,684.1) scale(1.06,1)" font-size="11.8" fill="#222" text-anchor="middle" font-weight="normal" stroke="#222" stroke-width="0.3"  style="">-2</text>
<line x1="194.1" y1="660.5" x2="194.1" y2="667.2" stroke="#111" stroke-width="2" />
<text transform="translate(194.1,684.1) scale(1.06,1)" font-size="11.8" fill="#222" text-anchor="middle" font-weight="normal" stroke="#222" stroke-width="0.3"  style="">-1</text>
<line x1="256.9" y1="660.5" x2="256.9" y2="667.2" stroke="#111" stroke-width="2" />
<text transform="translate(256.9,684.1) scale(1.06,1)" font-size="11.8" fill="#222" text-anchor="middle" font-weight="normal" stroke="#222" stroke-width="0.3"  style="">0</text>
<line x1="319.6" y1="660.5" x2="319.6" y2="667.2" stroke="#111" stroke-width="2" />
<text transform="translate(319.6,684.1) scale(1.06,1)" font-size="11.8" fill="#222" text-anchor="middle" font-weight="normal" stroke="#222" stroke-width="0.3"  style="">1</text>
<line x1="382.4" y1="660.5" x2="382.4" y2="667.2" stroke="#111" stroke-width="2" />
<text transform="translate(382.4,684.1) scale(1.06,1)" font-size="11.8" fill="#222" text-anchor="middle" font-weight="normal" stroke="#222" stroke-width="0.3"  style="">2</text>
<line x1="445.1" y1="660.5" x2="445.1" y2="667.2" stroke="#111" stroke-width="2" />
<text transform="translate(445.1,684.1) scale(1.06,1)" font-size="11.8" fill="#222" text-anchor="middle" font-weight="normal" stroke="#222" stroke-width="0.3"  style="">3</text>
<line x1="507.9" y1="660.5" x2="507.9" y2="667.2" stroke="#111" stroke-width="2" />
<text transform="translate(507.9,684.1) scale(1.06,1)" font-size="11.8" fill="#222" text-anchor="middle" font-weight="normal" stroke="#222" stroke-width="0.3"  style="">4</text>
<line x1="570.6" y1="660.5" x2="570.6" y2="667.2" stroke="#111" stroke-width="2" />
<text transform="translate(570.6,684.1) scale(1.06,1)" font-size="11.8" fill="#222" text-anchor="middle" font-weight="normal" stroke="#222" stroke-width="0.3"  style="">5</text>
<text transform="translate(27.9,581.4) rotate(-90)" font-size="13.8" fill="#222" text-anchor="middle" font-weight="normal" textLength="121" lengthAdjust="spacingAndGlyphs" stroke="#222" stroke-width="0.42">Relative Intensity</text>
<text x="320.6" y="706.6" font-size="13.6" fill="#1a1a1a" text-anchor="middle" font-weight="normal" textLength="74" lengthAdjust="spacingAndGlyphs" stroke="#1a1a1a" stroke-width="0.42"  style="">Time [min]</text>
<line x1="586.4" y1="522.5" x2="602.3" y2="522.5" stroke="#111" stroke-width="2.2" />
<line x1="586.4" y1="550.1" x2="602.3" y2="550.1" stroke="#a5161c" stroke-width="2.2" />
<line x1="586.4" y1="574.9" x2="602.3" y2="574.9" stroke="#04046e" stroke-width="2.2" />
<text transform="translate(612.0,519.1) scale(1.06,1)" font-size="11.3" fill="#333" text-anchor="start" font-weight="normal" stroke="#333" stroke-width="0.3"  style="">Room</text>
<text x="612.7" y="534.6" font-size="11.3" fill="#333" text-anchor="start" font-weight="normal" textLength="69.5" lengthAdjust="spacingAndGlyphs" stroke="#333" stroke-width="0.3"  style="">temperature</text>
<text transform="translate(612.0,554.7) scale(1.03,1)" font-size="11.3" fill="#333" text-anchor="start" font-weight="normal" stroke="#333" stroke-width="0.3"  style="">100°C</text>
<text x="612.0" y="579.1" font-size="11.3" fill="#333" text-anchor="start" font-weight="normal" stroke="#333" stroke-width="0.3"  style="">-80°C</text>
<rect x="126.5" y="475.8" width="148.3" height="117.1" fill="none" stroke="#3a3a3a" stroke-width="1.3"/>
<line x1="121.3" y1="475.8" x2="126.5" y2="475.8" stroke="#3a3a3a" stroke-width="1.3" />
<text transform="translate(118.6,480.6) scale(1.1,1)" font-size="12" fill="#222" text-anchor="end" font-weight="normal" stroke="#222" stroke-width="0.3"  style="">500</text>
<line x1="121.3" y1="505.1" x2="126.5" y2="505.1" stroke="#3a3a3a" stroke-width="1.3" />
<text transform="translate(118.6,509.9) scale(1.1,1)" font-size="12" fill="#222" text-anchor="end" font-weight="normal" stroke="#222" stroke-width="0.3"  style="">375</text>
<line x1="121.3" y1="534.4" x2="126.5" y2="534.4" stroke="#3a3a3a" stroke-width="1.3" />
<text transform="translate(118.6,539.2) scale(1.1,1)" font-size="12" fill="#222" text-anchor="end" font-weight="normal" stroke="#222" stroke-width="0.3"  style="">250</text>
<line x1="121.3" y1="563.6" x2="126.5" y2="563.6" stroke="#3a3a3a" stroke-width="1.3" />
<text transform="translate(118.6,568.4) scale(1.1,1)" font-size="12" fill="#222" text-anchor="end" font-weight="normal" stroke="#222" stroke-width="0.3"  style="">125</text>
<line x1="121.3" y1="592.9" x2="126.5" y2="592.9" stroke="#3a3a3a" stroke-width="1.3" />
<text transform="translate(118.6,597.7) scale(1.1,1)" font-size="12" fill="#222" text-anchor="end" font-weight="normal" stroke="#222" stroke-width="0.3"  style="">0</text>
<line x1="126.5" y1="592.9" x2="126.5" y2="598.5" stroke="#3a3a3a" stroke-width="1.3" />
<text transform="translate(126.5,612.0) scale(1.1,1)" font-size="11.4" fill="#222" text-anchor="middle" font-weight="normal" stroke="#222" stroke-width="0.3"  style="">0.0</text>
<line x1="156.2" y1="592.9" x2="156.2" y2="598.5" stroke="#3a3a3a" stroke-width="1.3" />
<text transform="translate(156.2,612.0) scale(1.1,1)" font-size="11.4" fill="#222" text-anchor="middle" font-weight="normal" stroke="#222" stroke-width="0.3"  style="">0.3</text>
<line x1="185.8" y1="592.9" x2="185.8" y2="598.5" stroke="#3a3a3a" stroke-width="1.3" />
<text transform="translate(185.8,612.0) scale(1.1,1)" font-size="11.4" fill="#222" text-anchor="middle" font-weight="normal" stroke="#222" stroke-width="0.3"  style="">0.6</text>
<line x1="215.5" y1="592.9" x2="215.5" y2="598.5" stroke="#3a3a3a" stroke-width="1.3" />
<text transform="translate(215.5,612.0) scale(1.1,1)" font-size="11.4" fill="#222" text-anchor="middle" font-weight="normal" stroke="#222" stroke-width="0.3"  style="">0.9</text>
<line x1="245.1" y1="592.9" x2="245.1" y2="598.5" stroke="#3a3a3a" stroke-width="1.3" />
<text transform="translate(245.1,612.0) scale(1.1,1)" font-size="11.4" fill="#222" text-anchor="middle" font-weight="normal" stroke="#222" stroke-width="0.3"  style="">1.2</text>
<line x1="274.8" y1="592.9" x2="274.8" y2="598.5" stroke="#3a3a3a" stroke-width="1.3" />
<text transform="translate(274.8,612.0) scale(1.1,1)" font-size="11.4" fill="#222" text-anchor="middle" font-weight="normal" stroke="#222" stroke-width="0.3"  style="">1.5</text>
<line x1="152.8" y1="570.7" x2="152.8" y2="592.0" stroke="#f4a0a0" stroke-width="0.8" />
<line x1="151.0" y1="570.7" x2="154.6" y2="570.7" stroke="#f4a0a0" stroke-width="0.8" />
<line x1="151.0" y1="592.0" x2="154.6" y2="592.0" stroke="#f4a0a0" stroke-width="0.8" />
<line x1="192.2" y1="481.9" x2="192.2" y2="535.7" stroke="#f4a0a0" stroke-width="0.8" />
<line x1="190.4" y1="481.9" x2="194.0" y2="481.9" stroke="#f4a0a0" stroke-width="0.8" />
<line x1="190.4" y1="535.7" x2="194.0" y2="535.7" stroke="#f4a0a0" stroke-width="0.8" />
<line x1="206.2" y1="480.2" x2="206.2" y2="497.1" stroke="#f4a0a0" stroke-width="0.8" />
<line x1="204.4" y1="480.2" x2="208.0" y2="480.2" stroke="#f4a0a0" stroke-width="0.8" />
<line x1="204.4" y1="497.1" x2="208.0" y2="497.1" stroke="#f4a0a0" stroke-width="0.8" />
<line x1="219.0" y1="500.0" x2="219.0" y2="504.5" stroke="#f4a0a0" stroke-width="0.8" />
<line x1="217.2" y1="500.0" x2="220.8" y2="500.0" stroke="#f4a0a0" stroke-width="0.8" />
<line x1="217.2" y1="504.5" x2="220.8" y2="504.5" stroke="#f4a0a0" stroke-width="0.8" />
<line x1="232.2" y1="498.0" x2="232.2" y2="502.0" stroke="#f4a0a0" stroke-width="0.8" />
<line x1="230.4" y1="498.0" x2="234.0" y2="498.0" stroke="#f4a0a0" stroke-width="0.8" />
<line x1="230.4" y1="502.0" x2="234.0" y2="502.0" stroke="#f4a0a0" stroke-width="0.8" />
<line x1="245.3" y1="499.5" x2="245.3" y2="503.5" stroke="#f4a0a0" stroke-width="0.8" />
<line x1="243.5" y1="499.5" x2="247.1" y2="499.5" stroke="#f4a0a0" stroke-width="0.8" />
<line x1="243.5" y1="503.5" x2="247.1" y2="503.5" stroke="#f4a0a0" stroke-width="0.8" />
<line x1="258.8" y1="494.0" x2="258.8" y2="500.0" stroke="#f4a0a0" stroke-width="0.8" />
<line x1="257.0" y1="494.0" x2="260.6" y2="494.0" stroke="#f4a0a0" stroke-width="0.8" />
<line x1="257.0" y1="500.0" x2="260.6" y2="500.0" stroke="#f4a0a0" stroke-width="0.8" />
<line x1="272.5" y1="491.9" x2="272.5" y2="495.7" stroke="#f4a0a0" stroke-width="0.8" />
<line x1="270.7" y1="491.9" x2="274.3" y2="491.9" stroke="#f4a0a0" stroke-width="0.8" />
<line x1="270.7" y1="495.7" x2="274.3" y2="495.7" stroke="#f4a0a0" stroke-width="0.8" />
<line x1="206.2" y1="583.3" x2="206.2" y2="587.3" stroke="#8f8f8f" stroke-width="0.8" />
<line x1="204.4" y1="583.3" x2="208.0" y2="583.3" stroke="#8f8f8f" stroke-width="0.8" />
<line x1="204.4" y1="587.3" x2="208.0" y2="587.3" stroke="#8f8f8f" stroke-width="0.8" />
<line x1="219.0" y1="576.8" x2="219.0" y2="584.1" stroke="#8f8f8f" stroke-width="0.8" />
<line x1="217.2" y1="576.8" x2="220.8" y2="576.8" stroke="#8f8f8f" stroke-width="0.8" />
<line x1="217.2" y1="584.1" x2="220.8" y2="584.1" stroke="#8f8f8f" stroke-width="0.8" />
<line x1="232.2" y1="564.3" x2="232.2" y2="571.6" stroke="#8f8f8f" stroke-width="0.8" />
<line x1="230.4" y1="564.3" x2="234.0" y2="564.3" stroke="#8f8f8f" stroke-width="0.8" />
<line x1="230.4" y1="571.6" x2="234.0" y2="571.6" stroke="#8f8f8f" stroke-width="0.8" />
<line x1="245.3" y1="555.0" x2="245.3" y2="564.9" stroke="#8f8f8f" stroke-width="0.8" />
<line x1="243.5" y1="555.0" x2="247.1" y2="555.0" stroke="#8f8f8f" stroke-width="0.8" />
<line x1="243.5" y1="564.9" x2="247.1" y2="564.9" stroke="#8f8f8f" stroke-width="0.8" />
<line x1="258.8" y1="546.2" x2="258.8" y2="551.7" stroke="#8f8f8f" stroke-width="0.8" />
<line x1="257.0" y1="546.2" x2="260.6" y2="546.2" stroke="#8f8f8f" stroke-width="0.8" />
<line x1="257.0" y1="551.7" x2="260.6" y2="551.7" stroke="#8f8f8f" stroke-width="0.8" />
<line x1="272.5" y1="538.6" x2="272.5" y2="544.4" stroke="#8f8f8f" stroke-width="0.8" />
<line x1="270.7" y1="538.6" x2="274.3" y2="538.6" stroke="#8f8f8f" stroke-width="0.8" />
<line x1="270.7" y1="544.4" x2="274.3" y2="544.4" stroke="#8f8f8f" stroke-width="0.8" />
<polyline points="126.5,592.9 179.0,592.9 192.2,590.5 206.2,585.3 219.0,580.3 232.2,567.8 245.3,559.9 258.8,549.1 272.5,541.5 274.8,540.6" fill="none" stroke="#111" stroke-width="1.8" stroke-linejoin="round" stroke-linecap="round" />
<polyline points="126.5,592.9 139.6,592.9 152.8,581.2 165.3,559.0 179.0,552.6 192.2,508.8 206.2,488.9 219.0,502.4 232.2,500.0 245.3,501.5 258.8,496.5 272.5,493.6 274.8,493.3" fill="none" stroke="#a5161c" stroke-width="1.8" stroke-linejoin="round" stroke-linecap="round" />
<line x1="186.0" y1="592.4" x2="274.8" y2="592.4" stroke="#04046e" stroke-width="2.3" />
<line x1="204.7" y1="592.2" x2="207.7" y2="592.2" stroke="#5aa0ff" stroke-width="1" />
<line x1="230.7" y1="592.2" x2="233.7" y2="592.2" stroke="#5aa0ff" stroke-width="1" />
<line x1="243.8" y1="592.2" x2="246.8" y2="592.2" stroke="#5aa0ff" stroke-width="1" />
<line x1="257.3" y1="592.2" x2="260.3" y2="592.2" stroke="#5aa0ff" stroke-width="1" />
<path d="M168.9,575.1 h3.3 v5.6 h1.5 l-3.15,3.4 l-3.15,-3.4 h1.5 z" fill="#9a4c16"/>
<polyline points="298.9,660.3 433.3,660.3 441.7,659.6 450.1,658.8 458.5,658.8 466.9,659.4 475.3,659.6 483.7,659.8 492.1,659.9 500.5,659.0 508.9,657.5 517.3,659.0 525.7,659.6 534.1,659.8 542.5,659.8 550.9,659.2 559.3,659.2 567.7,659.6" fill="none" stroke="#04046e" stroke-width="3.0" stroke-linejoin="round" stroke-linecap="round" />
<line x1="297.2" y1="660.1" x2="300.6" y2="660.1" stroke="#5aa0ff" stroke-width="1.1" />
<line x1="305.6" y1="660.1" x2="309.0" y2="660.1" stroke="#5aa0ff" stroke-width="1.1" />
<line x1="322.4" y1="660.1" x2="325.8" y2="660.1" stroke="#5aa0ff" stroke-width="1.1" />
<line x1="330.8" y1="660.1" x2="334.2" y2="660.1" stroke="#5aa0ff" stroke-width="1.1" />
<line x1="339.2" y1="660.1" x2="342.6" y2="660.1" stroke="#5aa0ff" stroke-width="1.1" />
<line x1="364.4" y1="660.1" x2="367.8" y2="660.1" stroke="#5aa0ff" stroke-width="1.1" />
<line x1="414.8" y1="660.1" x2="418.2" y2="660.1" stroke="#5aa0ff" stroke-width="1.1" />
<line x1="423.2" y1="660.1" x2="426.6" y2="660.1" stroke="#5aa0ff" stroke-width="1.1" />
<line x1="440.0" y1="659.4" x2="443.4" y2="659.4" stroke="#5aa0ff" stroke-width="1.1" />
<line x1="448.4" y1="658.6" x2="451.8" y2="658.6" stroke="#5aa0ff" stroke-width="1.1" />
<line x1="456.8" y1="658.6" x2="460.2" y2="658.6" stroke="#5aa0ff" stroke-width="1.1" />
<line x1="465.2" y1="659.2" x2="468.6" y2="659.2" stroke="#5aa0ff" stroke-width="1.1" />
<line x1="473.6" y1="659.4" x2="477.0" y2="659.4" stroke="#5aa0ff" stroke-width="1.1" />
<line x1="482.0" y1="659.6" x2="485.4" y2="659.6" stroke="#5aa0ff" stroke-width="1.1" />
<line x1="490.4" y1="659.7" x2="493.8" y2="659.7" stroke="#5aa0ff" stroke-width="1.1" />
<line x1="498.8" y1="658.8" x2="502.2" y2="658.8" stroke="#5aa0ff" stroke-width="1.1" />
<line x1="507.2" y1="657.3" x2="510.6" y2="657.3" stroke="#5aa0ff" stroke-width="1.1" />
<line x1="515.6" y1="658.8" x2="519.0" y2="658.8" stroke="#5aa0ff" stroke-width="1.1" />
<line x1="524.0" y1="659.4" x2="527.4" y2="659.4" stroke="#5aa0ff" stroke-width="1.1" />
<line x1="532.4" y1="659.6" x2="535.8" y2="659.6" stroke="#5aa0ff" stroke-width="1.1" />
<line x1="540.8" y1="659.6" x2="544.2" y2="659.6" stroke="#5aa0ff" stroke-width="1.1" />
<line x1="549.2" y1="659.0" x2="552.6" y2="659.0" stroke="#5aa0ff" stroke-width="1.1" />
<line x1="557.6" y1="659.0" x2="561.0" y2="659.0" stroke="#5aa0ff" stroke-width="1.1" />
<line x1="566.0" y1="659.4" x2="569.4" y2="659.4" stroke="#5aa0ff" stroke-width="1.1" />
<line x1="307.3" y1="648.5" x2="307.3" y2="654.5" stroke="#8f8f8f" stroke-width="0.8" />
<line x1="305.5" y1="648.5" x2="309.1" y2="648.5" stroke="#8f8f8f" stroke-width="0.8" />
<line x1="305.5" y1="654.5" x2="309.1" y2="654.5" stroke="#8f8f8f" stroke-width="0.8" />
<line x1="315.7" y1="644.0" x2="315.7" y2="650.0" stroke="#8f8f8f" stroke-width="0.8" />
<line x1="313.9" y1="644.0" x2="317.5" y2="644.0" stroke="#8f8f8f" stroke-width="0.8" />
<line x1="313.9" y1="650.0" x2="317.5" y2="650.0" stroke="#8f8f8f" stroke-width="0.8" />
<line x1="324.1" y1="629.5" x2="324.1" y2="635.5" stroke="#8f8f8f" stroke-width="0.8" />
<line x1="322.3" y1="629.5" x2="325.9" y2="629.5" stroke="#8f8f8f" stroke-width="0.8" />
<line x1="322.3" y1="635.5" x2="325.9" y2="635.5" stroke="#8f8f8f" stroke-width="0.8" />
<line x1="332.5" y1="619.0" x2="332.5" y2="625.0" stroke="#8f8f8f" stroke-width="0.8" />
<line x1="330.7" y1="619.0" x2="334.3" y2="619.0" stroke="#8f8f8f" stroke-width="0.8" />
<line x1="330.7" y1="625.0" x2="334.3" y2="625.0" stroke="#8f8f8f" stroke-width="0.8" />
<line x1="340.9" y1="609.0" x2="340.9" y2="615.0" stroke="#8f8f8f" stroke-width="0.8" />
<line x1="339.1" y1="609.0" x2="342.7" y2="609.0" stroke="#8f8f8f" stroke-width="0.8" />
<line x1="339.1" y1="615.0" x2="342.7" y2="615.0" stroke="#8f8f8f" stroke-width="0.8" />
<line x1="349.3" y1="601.5" x2="349.3" y2="607.5" stroke="#8f8f8f" stroke-width="0.8" />
<line x1="347.5" y1="601.5" x2="351.1" y2="601.5" stroke="#8f8f8f" stroke-width="0.8" />
<line x1="347.5" y1="607.5" x2="351.1" y2="607.5" stroke="#8f8f8f" stroke-width="0.8" />
<line x1="357.7" y1="597.5" x2="357.7" y2="603.0" stroke="#8f8f8f" stroke-width="0.8" />
<line x1="355.9" y1="597.5" x2="359.5" y2="597.5" stroke="#8f8f8f" stroke-width="0.8" />
<line x1="355.9" y1="603.0" x2="359.5" y2="603.0" stroke="#8f8f8f" stroke-width="0.8" />
<line x1="366.1" y1="589.4" x2="366.1" y2="594.7" stroke="#8f8f8f" stroke-width="0.8" />
<line x1="364.3" y1="589.4" x2="367.9" y2="589.4" stroke="#8f8f8f" stroke-width="0.8" />
<line x1="364.3" y1="594.7" x2="367.9" y2="594.7" stroke="#8f8f8f" stroke-width="0.8" />
<line x1="374.5" y1="591.5" x2="374.5" y2="616.4" stroke="#8f8f8f" stroke-width="0.8" />
<line x1="372.7" y1="591.5" x2="376.3" y2="591.5" stroke="#8f8f8f" stroke-width="0.8" />
<line x1="372.7" y1="616.4" x2="376.3" y2="616.4" stroke="#8f8f8f" stroke-width="0.8" />
<line x1="382.9" y1="597.4" x2="382.9" y2="605.1" stroke="#8f8f8f" stroke-width="0.8" />
<line x1="381.1" y1="597.4" x2="384.7" y2="597.4" stroke="#8f8f8f" stroke-width="0.8" />
<line x1="381.1" y1="605.1" x2="384.7" y2="605.1" stroke="#8f8f8f" stroke-width="0.8" />
<line x1="391.3" y1="595.2" x2="391.3" y2="607.5" stroke="#8f8f8f" stroke-width="0.8" />
<line x1="389.5" y1="595.2" x2="393.1" y2="595.2" stroke="#8f8f8f" stroke-width="0.8" />
<line x1="389.5" y1="607.5" x2="393.1" y2="607.5" stroke="#8f8f8f" stroke-width="0.8" />
<line x1="408.1" y1="612.5" x2="408.1" y2="619.2" stroke="#8f8f8f" stroke-width="0.8" />
<line x1="406.3" y1="612.5" x2="409.9" y2="612.5" stroke="#8f8f8f" stroke-width="0.8" />
<line x1="406.3" y1="619.2" x2="409.9" y2="619.2" stroke="#8f8f8f" stroke-width="0.8" />
<line x1="416.5" y1="601.2" x2="416.5" y2="612.8" stroke="#8f8f8f" stroke-width="0.8" />
<line x1="414.7" y1="601.2" x2="418.3" y2="601.2" stroke="#8f8f8f" stroke-width="0.8" />
<line x1="414.7" y1="612.8" x2="418.3" y2="612.8" stroke="#8f8f8f" stroke-width="0.8" />
<line x1="424.9" y1="602.3" x2="424.9" y2="606.4" stroke="#8f8f8f" stroke-width="0.8" />
<line x1="423.1" y1="602.3" x2="426.7" y2="602.3" stroke="#8f8f8f" stroke-width="0.8" />
<line x1="423.1" y1="606.4" x2="426.7" y2="606.4" stroke="#8f8f8f" stroke-width="0.8" />
<line x1="475.3" y1="582.0" x2="475.3" y2="602.8" stroke="#8f8f8f" stroke-width="0.8" />
<line x1="473.5" y1="582.0" x2="477.1" y2="582.0" stroke="#8f8f8f" stroke-width="0.8" />
<line x1="473.5" y1="602.8" x2="477.1" y2="602.8" stroke="#8f8f8f" stroke-width="0.8" />
<line x1="483.7" y1="579.0" x2="483.7" y2="588.7" stroke="#8f8f8f" stroke-width="0.8" />
<line x1="481.9" y1="579.0" x2="485.5" y2="579.0" stroke="#8f8f8f" stroke-width="0.8" />
<line x1="481.9" y1="588.7" x2="485.5" y2="588.7" stroke="#8f8f8f" stroke-width="0.8" />
<line x1="492.1" y1="591.9" x2="492.1" y2="602.3" stroke="#8f8f8f" stroke-width="0.8" />
<line x1="490.3" y1="591.9" x2="493.9" y2="591.9" stroke="#8f8f8f" stroke-width="0.8" />
<line x1="490.3" y1="602.3" x2="493.9" y2="602.3" stroke="#8f8f8f" stroke-width="0.8" />
<line x1="500.5" y1="581.3" x2="500.5" y2="590.1" stroke="#8f8f8f" stroke-width="0.8" />
<line x1="498.7" y1="581.3" x2="502.3" y2="581.3" stroke="#8f8f8f" stroke-width="0.8" />
<line x1="498.7" y1="590.1" x2="502.3" y2="590.1" stroke="#8f8f8f" stroke-width="0.8" />
<line x1="508.9" y1="579.1" x2="508.9" y2="601.0" stroke="#8f8f8f" stroke-width="0.8" />
<line x1="507.1" y1="579.1" x2="510.7" y2="579.1" stroke="#8f8f8f" stroke-width="0.8" />
<line x1="507.1" y1="601.0" x2="510.7" y2="601.0" stroke="#8f8f8f" stroke-width="0.8" />
<line x1="517.3" y1="573.3" x2="517.3" y2="586.9" stroke="#8f8f8f" stroke-width="0.8" />
<line x1="515.5" y1="573.3" x2="519.1" y2="573.3" stroke="#8f8f8f" stroke-width="0.8" />
<line x1="515.5" y1="586.9" x2="519.1" y2="586.9" stroke="#8f8f8f" stroke-width="0.8" />
<line x1="525.7" y1="571.1" x2="525.7" y2="580.6" stroke="#8f8f8f" stroke-width="0.8" />
<line x1="523.9" y1="571.1" x2="527.5" y2="571.1" stroke="#8f8f8f" stroke-width="0.8" />
<line x1="523.9" y1="580.6" x2="527.5" y2="580.6" stroke="#8f8f8f" stroke-width="0.8" />
<line x1="534.1" y1="578.4" x2="534.1" y2="600.3" stroke="#8f8f8f" stroke-width="0.8" />
<line x1="532.3" y1="578.4" x2="535.9" y2="578.4" stroke="#8f8f8f" stroke-width="0.8" />
<line x1="532.3" y1="600.3" x2="535.9" y2="600.3" stroke="#8f8f8f" stroke-width="0.8" />
<line x1="550.9" y1="585.0" x2="550.9" y2="597.4" stroke="#8f8f8f" stroke-width="0.8" />
<line x1="549.1" y1="585.0" x2="552.7" y2="585.0" stroke="#8f8f8f" stroke-width="0.8" />
<line x1="549.1" y1="597.4" x2="552.7" y2="597.4" stroke="#8f8f8f" stroke-width="0.8" />
<line x1="559.3" y1="574.0" x2="559.3" y2="580.0" stroke="#8f8f8f" stroke-width="0.8" />
<line x1="557.5" y1="574.0" x2="561.1" y2="574.0" stroke="#8f8f8f" stroke-width="0.8" />
<line x1="557.5" y1="580.0" x2="561.1" y2="580.0" stroke="#8f8f8f" stroke-width="0.8" />
<line x1="567.7" y1="579.9" x2="567.7" y2="598.1" stroke="#8f8f8f" stroke-width="0.8" />
<line x1="565.9" y1="579.9" x2="569.5" y2="579.9" stroke="#8f8f8f" stroke-width="0.8" />
<line x1="565.9" y1="598.1" x2="569.5" y2="598.1" stroke="#8f8f8f" stroke-width="0.8" />
<polyline points="256.9,660.6 290.5,660.6 298.9,657.4 307.3,651.5 315.7,647.2 324.1,632.6 332.5,622.0 340.9,612.0 349.3,604.5 357.7,600.3 366.1,592.7 374.5,603.8 382.9,601.1 391.3,601.3 399.7,595.4 408.1,616.0 416.5,607.2 424.9,604.4 433.3,604.7 441.7,603.1 450.1,599.9 458.5,600.3 466.9,600.3 475.3,592.2 483.7,583.9 492.1,596.9 500.5,585.6 508.9,590.4 517.3,579.9 525.7,575.5 534.1,588.9 542.5,593.0 550.9,591.5 559.3,576.9 567.7,587.9" fill="none" stroke="#111" stroke-width="2.2" stroke-linejoin="round" stroke-linecap="round" />
<line x1="273.7" y1="636.0" x2="273.7" y2="658.0" stroke="#f4a0a0" stroke-width="0.8" />
<line x1="271.9" y1="636.0" x2="275.5" y2="636.0" stroke="#f4a0a0" stroke-width="0.8" />
<line x1="271.9" y1="658.0" x2="275.5" y2="658.0" stroke="#f4a0a0" stroke-width="0.8" />
<line x1="298.9" y1="539.3" x2="298.9" y2="598.4" stroke="#f4a0a0" stroke-width="0.8" />
<line x1="297.1" y1="539.3" x2="300.7" y2="539.3" stroke="#f4a0a0" stroke-width="0.8" />
<line x1="297.1" y1="598.4" x2="300.7" y2="598.4" stroke="#f4a0a0" stroke-width="0.8" />
<line x1="307.3" y1="537.7" x2="307.3" y2="556.1" stroke="#f4a0a0" stroke-width="0.8" />
<line x1="305.5" y1="537.7" x2="309.1" y2="537.7" stroke="#f4a0a0" stroke-width="0.8" />
<line x1="305.5" y1="556.1" x2="309.1" y2="556.1" stroke="#f4a0a0" stroke-width="0.8" />
<line x1="315.7" y1="559.5" x2="315.7" y2="565.5" stroke="#f4a0a0" stroke-width="0.8" />
<line x1="313.9" y1="559.5" x2="317.5" y2="559.5" stroke="#f4a0a0" stroke-width="0.8" />
<line x1="313.9" y1="565.5" x2="317.5" y2="565.5" stroke="#f4a0a0" stroke-width="0.8" />
<line x1="332.5" y1="558.0" x2="332.5" y2="564.0" stroke="#f4a0a0" stroke-width="0.8" />
<line x1="330.7" y1="558.0" x2="334.3" y2="558.0" stroke="#f4a0a0" stroke-width="0.8" />
<line x1="330.7" y1="564.0" x2="334.3" y2="564.0" stroke="#f4a0a0" stroke-width="0.8" />
<line x1="340.9" y1="552.9" x2="340.9" y2="559.3" stroke="#f4a0a0" stroke-width="0.8" />
<line x1="339.1" y1="552.9" x2="342.7" y2="552.9" stroke="#f4a0a0" stroke-width="0.8" />
<line x1="339.1" y1="559.3" x2="342.7" y2="559.3" stroke="#f4a0a0" stroke-width="0.8" />
<line x1="349.3" y1="549.5" x2="349.3" y2="555.0" stroke="#f4a0a0" stroke-width="0.8" />
<line x1="347.5" y1="549.5" x2="351.1" y2="549.5" stroke="#f4a0a0" stroke-width="0.8" />
<line x1="347.5" y1="555.0" x2="351.1" y2="555.0" stroke="#f4a0a0" stroke-width="0.8" />
<line x1="366.1" y1="548.1" x2="366.1" y2="553.7" stroke="#f4a0a0" stroke-width="0.8" />
<line x1="364.3" y1="548.1" x2="367.9" y2="548.1" stroke="#f4a0a0" stroke-width="0.8" />
<line x1="364.3" y1="553.7" x2="367.9" y2="553.7" stroke="#f4a0a0" stroke-width="0.8" />
<line x1="374.5" y1="532.8" x2="374.5" y2="546.5" stroke="#f4a0a0" stroke-width="0.8" />
<line x1="372.7" y1="532.8" x2="376.3" y2="532.8" stroke="#f4a0a0" stroke-width="0.8" />
<line x1="372.7" y1="546.5" x2="376.3" y2="546.5" stroke="#f4a0a0" stroke-width="0.8" />
<line x1="382.9" y1="538.0" x2="382.9" y2="544.0" stroke="#f4a0a0" stroke-width="0.8" />
<line x1="381.1" y1="538.0" x2="384.7" y2="538.0" stroke="#f4a0a0" stroke-width="0.8" />
<line x1="381.1" y1="544.0" x2="384.7" y2="544.0" stroke="#f4a0a0" stroke-width="0.8" />
<line x1="391.3" y1="528.0" x2="391.3" y2="537.6" stroke="#f4a0a0" stroke-width="0.8" />
<line x1="389.5" y1="528.0" x2="393.1" y2="528.0" stroke="#f4a0a0" stroke-width="0.8" />
<line x1="389.5" y1="537.6" x2="393.1" y2="537.6" stroke="#f4a0a0" stroke-width="0.8" />
<line x1="399.7" y1="533.0" x2="399.7" y2="539.0" stroke="#f4a0a0" stroke-width="0.8" />
<line x1="397.9" y1="533.0" x2="401.5" y2="533.0" stroke="#f4a0a0" stroke-width="0.8" />
<line x1="397.9" y1="539.0" x2="401.5" y2="539.0" stroke="#f4a0a0" stroke-width="0.8" />
<line x1="408.1" y1="537.0" x2="408.1" y2="543.5" stroke="#f4a0a0" stroke-width="0.8" />
<line x1="406.3" y1="537.0" x2="409.9" y2="537.0" stroke="#f4a0a0" stroke-width="0.8" />
<line x1="406.3" y1="543.5" x2="409.9" y2="543.5" stroke="#f4a0a0" stroke-width="0.8" />
<line x1="416.5" y1="531.2" x2="416.5" y2="545.7" stroke="#f4a0a0" stroke-width="0.8" />
<line x1="414.7" y1="531.2" x2="418.3" y2="531.2" stroke="#f4a0a0" stroke-width="0.8" />
<line x1="414.7" y1="545.7" x2="418.3" y2="545.7" stroke="#f4a0a0" stroke-width="0.8" />
<line x1="424.9" y1="536.0" x2="424.9" y2="544.5" stroke="#f4a0a0" stroke-width="0.8" />
<line x1="423.1" y1="536.0" x2="426.7" y2="536.0" stroke="#f4a0a0" stroke-width="0.8" />
<line x1="423.1" y1="544.5" x2="426.7" y2="544.5" stroke="#f4a0a0" stroke-width="0.8" />
<line x1="433.3" y1="536.5" x2="433.3" y2="542.0" stroke="#f4a0a0" stroke-width="0.8" />
<line x1="431.5" y1="536.5" x2="435.1" y2="536.5" stroke="#f4a0a0" stroke-width="0.8" />
<line x1="431.5" y1="542.0" x2="435.1" y2="542.0" stroke="#f4a0a0" stroke-width="0.8" />
<line x1="441.7" y1="546.0" x2="441.7" y2="552.0" stroke="#f4a0a0" stroke-width="0.8" />
<line x1="439.9" y1="546.0" x2="443.5" y2="546.0" stroke="#f4a0a0" stroke-width="0.8" />
<line x1="439.9" y1="552.0" x2="443.5" y2="552.0" stroke="#f4a0a0" stroke-width="0.8" />
<line x1="450.1" y1="548.2" x2="450.1" y2="559.0" stroke="#f4a0a0" stroke-width="0.8" />
<line x1="448.3" y1="548.2" x2="451.9" y2="548.2" stroke="#f4a0a0" stroke-width="0.8" />
<line x1="448.3" y1="559.0" x2="451.9" y2="559.0" stroke="#f4a0a0" stroke-width="0.8" />
<line x1="458.5" y1="544.0" x2="458.5" y2="550.0" stroke="#f4a0a0" stroke-width="0.8" />
<line x1="456.7" y1="544.0" x2="460.3" y2="544.0" stroke="#f4a0a0" stroke-width="0.8" />
<line x1="456.7" y1="550.0" x2="460.3" y2="550.0" stroke="#f4a0a0" stroke-width="0.8" />
<line x1="466.9" y1="544.5" x2="466.9" y2="550.0" stroke="#f4a0a0" stroke-width="0.8" />
<line x1="465.1" y1="544.5" x2="468.7" y2="544.5" stroke="#f4a0a0" stroke-width="0.8" />
<line x1="465.1" y1="550.0" x2="468.7" y2="550.0" stroke="#f4a0a0" stroke-width="0.8" />
<line x1="475.3" y1="544.5" x2="475.3" y2="553.0" stroke="#f4a0a0" stroke-width="0.8" />
<line x1="473.5" y1="544.5" x2="477.1" y2="544.5" stroke="#f4a0a0" stroke-width="0.8" />
<line x1="473.5" y1="553.0" x2="477.1" y2="553.0" stroke="#f4a0a0" stroke-width="0.8" />
<line x1="483.7" y1="546.1" x2="483.7" y2="557.4" stroke="#f4a0a0" stroke-width="0.8" />
<line x1="481.9" y1="546.1" x2="485.5" y2="546.1" stroke="#f4a0a0" stroke-width="0.8" />
<line x1="481.9" y1="557.4" x2="485.5" y2="557.4" stroke="#f4a0a0" stroke-width="0.8" />
<line x1="492.1" y1="555.0" x2="492.1" y2="561.0" stroke="#f4a0a0" stroke-width="0.8" />
<line x1="490.3" y1="555.0" x2="493.9" y2="555.0" stroke="#f4a0a0" stroke-width="0.8" />
<line x1="490.3" y1="561.0" x2="493.9" y2="561.0" stroke="#f4a0a0" stroke-width="0.8" />
<line x1="500.5" y1="552.8" x2="500.5" y2="561.2" stroke="#f4a0a0" stroke-width="0.8" />
<line x1="498.7" y1="552.8" x2="502.3" y2="552.8" stroke="#f4a0a0" stroke-width="0.8" />
<line x1="498.7" y1="561.2" x2="502.3" y2="561.2" stroke="#f4a0a0" stroke-width="0.8" />
<line x1="508.9" y1="559.1" x2="508.9" y2="568.2" stroke="#f4a0a0" stroke-width="0.8" />
<line x1="507.1" y1="559.1" x2="510.7" y2="559.1" stroke="#f4a0a0" stroke-width="0.8" />
<line x1="507.1" y1="568.2" x2="510.7" y2="568.2" stroke="#f4a0a0" stroke-width="0.8" />
<line x1="517.3" y1="555.8" x2="517.3" y2="568.5" stroke="#f4a0a0" stroke-width="0.8" />
<line x1="515.5" y1="555.8" x2="519.1" y2="555.8" stroke="#f4a0a0" stroke-width="0.8" />
<line x1="515.5" y1="568.5" x2="519.1" y2="568.5" stroke="#f4a0a0" stroke-width="0.8" />
<line x1="525.7" y1="562.3" x2="525.7" y2="568.9" stroke="#f4a0a0" stroke-width="0.8" />
<line x1="523.9" y1="562.3" x2="527.5" y2="562.3" stroke="#f4a0a0" stroke-width="0.8" />
<line x1="523.9" y1="568.9" x2="527.5" y2="568.9" stroke="#f4a0a0" stroke-width="0.8" />
<line x1="534.1" y1="571.8" x2="534.1" y2="579.1" stroke="#f4a0a0" stroke-width="0.8" />
<line x1="532.3" y1="571.8" x2="535.9" y2="571.8" stroke="#f4a0a0" stroke-width="0.8" />
<line x1="532.3" y1="579.1" x2="535.9" y2="579.1" stroke="#f4a0a0" stroke-width="0.8" />
<line x1="542.5" y1="564.0" x2="542.5" y2="570.0" stroke="#f4a0a0" stroke-width="0.8" />
<line x1="540.7" y1="564.0" x2="544.3" y2="564.0" stroke="#f4a0a0" stroke-width="0.8" />
<line x1="540.7" y1="570.0" x2="544.3" y2="570.0" stroke="#f4a0a0" stroke-width="0.8" />
<line x1="550.9" y1="563.5" x2="550.9" y2="569.5" stroke="#f4a0a0" stroke-width="0.8" />
<line x1="549.1" y1="563.5" x2="552.7" y2="563.5" stroke="#f4a0a0" stroke-width="0.8" />
<line x1="549.1" y1="569.5" x2="552.7" y2="569.5" stroke="#f4a0a0" stroke-width="0.8" />
<line x1="559.3" y1="556.5" x2="559.3" y2="579.9" stroke="#f4a0a0" stroke-width="0.8" />
<line x1="557.5" y1="556.5" x2="561.1" y2="556.5" stroke="#f4a0a0" stroke-width="0.8" />
<line x1="557.5" y1="579.9" x2="561.1" y2="579.9" stroke="#f4a0a0" stroke-width="0.8" />
<line x1="567.7" y1="572.3" x2="567.7" y2="576.2" stroke="#f4a0a0" stroke-width="0.8" />
<line x1="565.9" y1="572.3" x2="569.5" y2="572.3" stroke="#f4a0a0" stroke-width="0.8" />
<line x1="565.9" y1="576.2" x2="569.5" y2="576.2" stroke="#f4a0a0" stroke-width="0.8" />
<polyline points="265.3,660.6 273.7,647.4 282.1,623.1 290.5,617.2 298.9,567.4 307.3,547.0 315.7,562.6 324.1,559.3 332.5,561.0 340.9,556.1 349.3,552.1 357.7,555.7 366.1,550.8 374.5,540.1 382.9,540.9 391.3,533.0 399.7,535.9 408.1,540.2 416.5,538.6 424.9,540.5 433.3,539.4 441.7,548.9 450.1,553.0 458.5,546.9 466.9,547.3 475.3,548.9 483.7,551.4 492.1,558.2 500.5,556.8 508.9,563.4 517.3,562.3 525.7,566.0 534.1,575.8 542.5,567.0 550.9,566.4 559.3,569.3 567.7,574.0" fill="none" stroke="#a5161c" stroke-width="2.2" stroke-linejoin="round" stroke-linecap="round" />
</svg></body></html>
